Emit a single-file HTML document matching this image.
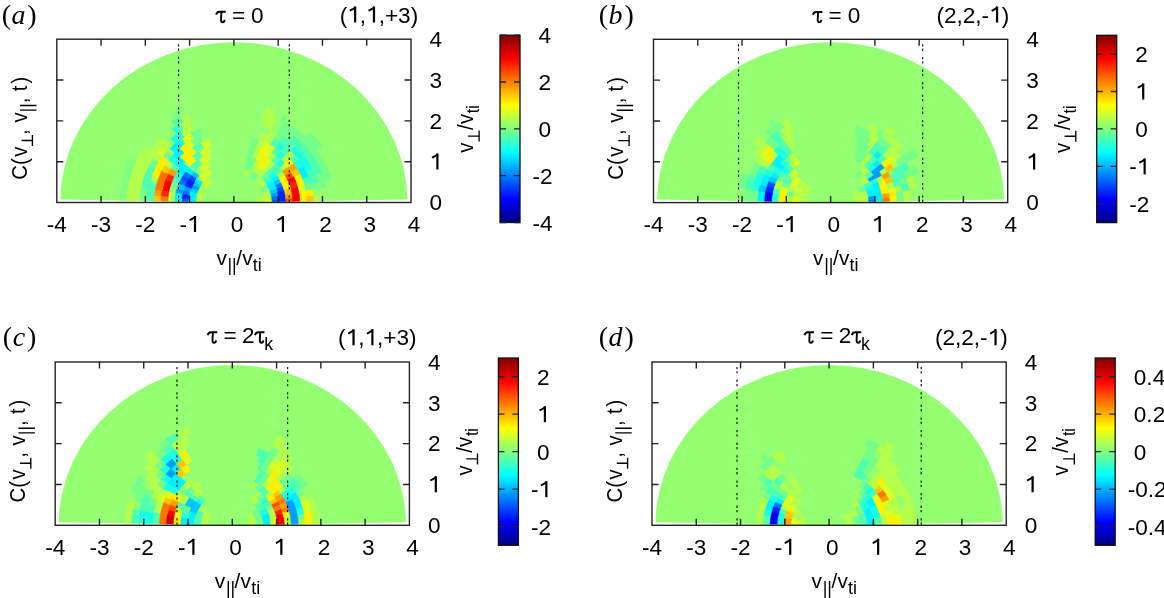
<!DOCTYPE html>
<html><head><meta charset="utf-8"><style>
html,body{margin:0;padding:0;background:#fff;}
svg{display:block;will-change:transform;}
text{font-family:'Liberation Sans', sans-serif;font-size:22.6px;fill:#000;font-kerning:none;}
</style></head><body>
<svg width="1164" height="598" viewBox="0 0 1164 598">
<defs><filter id="bl" x="-5%" y="-5%" width="110%" height="110%"><feGaussianBlur stdDeviation="2.0"/></filter><linearGradient id="jet" x1="0" y1="0" x2="0" y2="1"><stop offset="0.0000" stop-color="#800000"/><stop offset="0.0156" stop-color="#8f0000"/><stop offset="0.0312" stop-color="#9f0000"/><stop offset="0.0469" stop-color="#af0000"/><stop offset="0.0625" stop-color="#bf0000"/><stop offset="0.0781" stop-color="#cf0000"/><stop offset="0.0938" stop-color="#df0000"/><stop offset="0.1094" stop-color="#ef0000"/><stop offset="0.1250" stop-color="#ff0000"/><stop offset="0.1406" stop-color="#ff1000"/><stop offset="0.1562" stop-color="#ff2000"/><stop offset="0.1719" stop-color="#ff3000"/><stop offset="0.1875" stop-color="#ff4000"/><stop offset="0.2031" stop-color="#ff5000"/><stop offset="0.2188" stop-color="#ff6000"/><stop offset="0.2344" stop-color="#ff7000"/><stop offset="0.2500" stop-color="#ff8000"/><stop offset="0.2656" stop-color="#ff8f00"/><stop offset="0.2812" stop-color="#ff9f00"/><stop offset="0.2969" stop-color="#ffaf00"/><stop offset="0.3125" stop-color="#ffbf00"/><stop offset="0.3281" stop-color="#ffcf00"/><stop offset="0.3438" stop-color="#ffdf00"/><stop offset="0.3594" stop-color="#ffef00"/><stop offset="0.3750" stop-color="#ffff00"/><stop offset="0.3906" stop-color="#efff10"/><stop offset="0.4062" stop-color="#dfff20"/><stop offset="0.4219" stop-color="#cfff30"/><stop offset="0.4375" stop-color="#bfff40"/><stop offset="0.4531" stop-color="#afff50"/><stop offset="0.4688" stop-color="#9fff60"/><stop offset="0.4844" stop-color="#8fff70"/><stop offset="0.5000" stop-color="#80ff80"/><stop offset="0.5156" stop-color="#70ff8f"/><stop offset="0.5312" stop-color="#60ff9f"/><stop offset="0.5469" stop-color="#50ffaf"/><stop offset="0.5625" stop-color="#40ffbf"/><stop offset="0.5781" stop-color="#30ffcf"/><stop offset="0.5938" stop-color="#20ffdf"/><stop offset="0.6094" stop-color="#10ffef"/><stop offset="0.6250" stop-color="#00ffff"/><stop offset="0.6406" stop-color="#00efff"/><stop offset="0.6562" stop-color="#00dfff"/><stop offset="0.6719" stop-color="#00cfff"/><stop offset="0.6875" stop-color="#00bfff"/><stop offset="0.7031" stop-color="#00afff"/><stop offset="0.7188" stop-color="#009fff"/><stop offset="0.7344" stop-color="#008fff"/><stop offset="0.7500" stop-color="#0080ff"/><stop offset="0.7656" stop-color="#0070ff"/><stop offset="0.7812" stop-color="#0060ff"/><stop offset="0.7969" stop-color="#0050ff"/><stop offset="0.8125" stop-color="#0040ff"/><stop offset="0.8281" stop-color="#0030ff"/><stop offset="0.8438" stop-color="#0020ff"/><stop offset="0.8594" stop-color="#0010ff"/><stop offset="0.8750" stop-color="#0000ff"/><stop offset="0.8906" stop-color="#0000ef"/><stop offset="0.9062" stop-color="#0000df"/><stop offset="0.9219" stop-color="#0000cf"/><stop offset="0.9375" stop-color="#0000bf"/><stop offset="0.9531" stop-color="#0000af"/><stop offset="0.9688" stop-color="#00009f"/><stop offset="0.9844" stop-color="#00008f"/><stop offset="1.0000" stop-color="#000080"/></linearGradient></defs>
<g transform="translate(0.0,0.0)">
<path d="M233.90 202.50L407.52 199.46A173.65 160.2 0 0 0 60.28 199.46Z" fill="#94ff70"/>
<clipPath id="cpa"><path d="M233.90 202.50L407.52 199.46A173.65 160.2 0 0 0 60.28 199.46Z"/></clipPath>
<g clip-path="url(#cpa)"><path fill="#b3ff4c" stroke="#b3ff4c" stroke-width="0.5" d="M265.1 202.5A31.2 28.8 0 0 0 264.1 195.0L257.4 196.7A24.3 22.4 0 0 1 258.2 202.5ZM271.9 199.4A38.2 35.2 0 0 0 269.8 190.5L263.3 192.6A31.2 28.8 0 0 1 265.0 200.0ZM267.0 184.9A38.2 35.2 0 0 0 260.9 177.6L256.0 182.1A31.2 28.8 0 0 1 261.0 188.1ZM250.0 170.6A38.2 35.2 0 0 0 247.0 169.4L244.6 175.4A31.2 28.8 0 0 1 247.1 176.4ZM198.0 190.5A38.2 35.2 0 0 0 195.7 202.5L202.7 202.5A31.2 28.8 0 0 1 204.5 192.6ZM265.8 173.1A45.1 41.6 0 0 0 256.5 166.5L253.0 172.0A38.2 35.2 0 0 1 260.9 177.6ZM270.7 168.6A52.1 48.0 0 0 0 267.4 165.7L262.9 170.6A45.1 41.6 0 0 1 265.8 173.1ZM259.9 160.9A52.1 48.0 0 0 0 255.9 159.0L253.0 164.8A45.1 41.6 0 0 1 256.5 166.5ZM285.0 175.3A59.0 54.4 0 0 0 282.2 171.3L276.6 175.0A52.1 48.0 0 0 1 279.0 178.5ZM275.6 164.0A59.0 54.4 0 0 0 271.8 160.8L267.4 165.7A52.1 48.0 0 0 1 270.7 168.6ZM258.8 153.2A59.0 54.4 0 0 0 254.1 151.4L251.7 157.4A52.1 48.0 0 0 1 255.9 159.0ZM287.9 167.6A66.0 60.8 0 0 0 284.4 163.4L279.1 167.5A59.0 54.4 0 0 1 282.2 171.3ZM276.3 155.9A66.0 60.8 0 0 0 271.7 152.7L267.7 157.9A59.0 54.4 0 0 1 271.8 160.8ZM261.8 147.4A66.0 60.8 0 0 0 256.5 145.4L254.1 151.4A59.0 54.4 0 0 1 258.8 153.2ZM168.9 191.9A66.0 60.8 0 0 0 167.9 202.5L174.9 202.5A59.0 54.4 0 0 1 175.8 193.1ZM289.7 159.3A72.9 67.2 0 0 0 285.4 155.0L280.5 159.5A66.0 60.8 0 0 1 284.4 163.4ZM264.7 141.6A72.9 67.2 0 0 0 258.8 139.3L256.5 145.4A66.0 60.8 0 0 1 261.8 147.4ZM295.1 155.2A79.8 73.6 0 0 0 290.4 150.4L285.4 155.0A72.9 67.2 0 0 1 289.7 159.3ZM273.8 138.7A79.8 73.6 0 0 0 261.2 133.3L258.8 139.3A72.9 67.2 0 0 1 270.3 144.3ZM168.5 160.3A79.8 73.6 0 0 0 164.8 165.7L170.8 168.9A72.9 67.2 0 0 1 174.2 163.9ZM320.7 202.5A86.8 80.0 0 0 0 320.3 195.5L313.4 196.1A79.8 73.6 0 0 1 313.7 202.5ZM277.3 133.2A86.8 80.0 0 0 0 270.6 130.0L267.6 135.8A79.8 73.6 0 0 1 273.8 138.7ZM152.4 175.1A86.8 80.0 0 0 0 150.1 181.8L156.8 183.4A79.8 73.6 0 0 1 158.9 177.3ZM273.5 124.2A93.7 86.4 0 0 0 266.0 121.3L263.6 127.3A86.8 80.0 0 0 1 270.6 130.0ZM190.6 125.8A93.7 86.4 0 0 0 180.1 131.7L184.1 137.0A86.8 80.0 0 0 1 193.8 131.5ZM167.6 141.4A93.7 86.4 0 0 0 162.1 147.0L167.4 151.1A86.8 80.0 0 0 1 172.5 145.9ZM157.1 152.9A93.7 86.4 0 0 0 152.7 159.3L158.7 162.5A86.8 80.0 0 0 1 162.8 156.6ZM276.4 118.4A100.7 92.8 0 0 0 264.2 114.0L262.1 120.1A93.7 86.4 0 0 1 273.5 124.2ZM187.4 120.2A100.7 92.8 0 0 0 179.8 124.2L183.5 129.6A93.7 86.4 0 0 1 190.6 125.8ZM162.7 136.9A100.7 92.8 0 0 0 133.2 202.5L140.2 202.5A93.7 86.4 0 0 1 167.6 141.4ZM275.1 110.8A107.6 99.2 0 0 0 266.3 107.9L264.2 114.0A100.7 92.8 0 0 1 272.4 116.7ZM140.7 152.9A107.6 99.2 0 0 0 126.3 202.5L133.2 202.5A100.7 92.8 0 0 1 146.7 156.1Z"/><path fill="#dbff24" stroke="#dbff24" stroke-width="0.5" d="M272.1 202.5A38.2 35.2 0 0 0 271.9 199.4L265.0 200.0A31.2 28.8 0 0 1 265.1 202.5ZM267.4 165.7A52.1 48.0 0 0 0 263.8 163.2L259.8 168.4A45.1 41.6 0 0 1 262.9 170.6ZM271.8 160.8A59.0 54.4 0 0 0 267.7 157.9L263.8 163.2A52.1 48.0 0 0 1 267.4 165.7ZM263.4 155.4A59.0 54.4 0 0 0 258.8 153.2L255.9 159.0A52.1 48.0 0 0 1 259.9 160.9ZM271.7 152.7A66.0 60.8 0 0 0 266.9 149.8L263.4 155.4A59.0 54.4 0 0 1 267.7 157.9ZM305.7 190.8A72.9 67.2 0 0 0 304.3 185.1L297.6 186.8A66.0 60.8 0 0 1 298.9 191.9ZM275.7 147.4A72.9 67.2 0 0 0 264.7 141.6L261.8 147.4A66.0 60.8 0 0 1 271.7 152.7ZM191.0 140.4A79.8 73.6 0 0 0 185.3 144.1L189.5 149.2A72.9 67.2 0 0 1 194.7 145.8ZM190.5 133.2A86.8 80.0 0 0 0 181.1 139.0L185.3 144.1A79.8 73.6 0 0 1 194.0 138.7ZM162.1 147.0A93.7 86.4 0 0 0 157.1 152.9L162.8 156.6A86.8 80.0 0 0 1 167.4 151.1Z"/><path fill="#75ff8a" stroke="#75ff8a" stroke-width="0.5" d="M269.8 190.5A38.2 35.2 0 0 0 267.0 184.9L261.0 188.1A31.2 28.8 0 0 1 263.3 192.6ZM258.4 175.5A38.2 35.2 0 0 0 253.0 172.0L249.5 177.6A31.2 28.8 0 0 1 254.0 180.4ZM268.5 175.8A45.1 41.6 0 0 0 265.8 173.1L260.9 177.6A38.2 35.2 0 0 1 263.1 179.9ZM253.0 164.8A45.1 41.6 0 0 0 245.6 162.3L243.8 168.5A38.2 35.2 0 0 1 250.0 170.6ZM255.9 159.0A52.1 48.0 0 0 0 247.4 156.1L245.6 162.3A45.1 41.6 0 0 1 253.0 164.8ZM254.1 151.4A59.0 54.4 0 0 0 249.2 149.9L247.4 156.1A52.1 48.0 0 0 1 251.7 157.4ZM256.5 145.4A66.0 60.8 0 0 0 251.0 143.8L249.2 149.9A59.0 54.4 0 0 1 254.1 151.4ZM171.9 181.7A66.0 60.8 0 0 0 170.2 186.8L176.9 188.4A59.0 54.4 0 0 1 178.4 183.9ZM258.8 139.3A72.9 67.2 0 0 0 252.8 137.6L251.0 143.8A66.0 60.8 0 0 1 256.5 145.4ZM312.5 189.7A79.8 73.6 0 0 0 311.0 183.4L304.3 185.1A72.9 67.2 0 0 1 305.7 190.8ZM200.2 135.8A79.8 73.6 0 0 0 191.0 140.4L194.7 145.8A72.9 67.2 0 0 1 203.1 141.6ZM319.4 188.6A86.8 80.0 0 0 0 317.7 181.8L311.0 183.4A79.8 73.6 0 0 1 312.5 189.7ZM283.7 137.0A86.8 80.0 0 0 0 277.3 133.2L273.8 138.7A79.8 73.6 0 0 1 279.7 142.2ZM200.7 128.6A86.8 80.0 0 0 0 190.5 133.2L194.0 138.7A79.8 73.6 0 0 1 203.3 134.5ZM167.4 151.1A86.8 80.0 0 0 0 162.8 156.6L168.5 160.3A79.8 73.6 0 0 1 172.7 155.2ZM326.2 187.5A93.7 86.4 0 0 0 322.0 172.9L315.4 175.1A86.8 80.0 0 0 1 319.4 188.6ZM294.1 136.3A93.7 86.4 0 0 0 280.8 127.7L277.3 133.2A86.8 80.0 0 0 1 289.7 141.2ZM152.7 159.3A93.7 86.4 0 0 0 149.0 166.0L155.3 168.7A86.8 80.0 0 0 1 158.7 162.5ZM141.6 187.5A93.7 86.4 0 0 0 140.2 202.5L147.1 202.5A86.8 80.0 0 0 1 148.4 188.6ZM331.1 178.5A100.7 92.8 0 0 0 284.2 122.1L280.8 127.7A93.7 86.4 0 0 1 324.4 180.1ZM322.0 145.6A107.6 99.2 0 0 0 310.0 132.3L305.1 136.9A100.7 92.8 0 0 1 316.4 149.3ZM287.7 116.6A107.6 99.2 0 0 0 283.6 114.5L280.4 120.2A100.7 92.8 0 0 1 284.2 122.1Z"/><path fill="#d1ff2e" stroke="#d1ff2e" stroke-width="0.5" d="M206.9 177.6A38.2 35.2 0 0 0 200.8 184.9L206.8 188.1A31.2 28.8 0 0 1 211.8 182.1ZM208.0 168.4A45.1 41.6 0 0 0 198.1 177.2L203.6 181.1A38.2 35.2 0 0 1 212.0 173.7ZM207.9 160.9A52.1 48.0 0 0 0 198.7 167.1L203.4 171.8A45.1 41.6 0 0 1 211.3 166.5ZM209.0 153.2A59.0 54.4 0 0 0 198.0 159.3L202.2 164.4A52.1 48.0 0 0 1 211.9 159.0ZM208.7 146.3A66.0 60.8 0 0 0 198.5 151.2L202.2 156.6A59.0 54.4 0 0 1 211.3 152.2ZM209.0 139.3A72.9 67.2 0 0 0 200.2 142.9L203.4 148.6A66.0 60.8 0 0 1 211.3 145.4Z"/><path fill="#004dff" stroke="#004dff" stroke-width="0.5" d="M279.0 202.5A45.1 41.6 0 0 0 278.9 198.9L271.9 199.4A38.2 35.2 0 0 1 272.1 202.5ZM284.2 190.1A52.1 48.0 0 0 0 282.8 186.1L276.3 188.3A45.1 41.6 0 0 1 277.5 191.7ZM191.2 175.0A52.1 48.0 0 0 0 188.8 178.5L194.8 181.7A45.1 41.6 0 0 1 196.9 178.6ZM182.0 198.3A52.1 48.0 0 0 0 181.8 202.5L188.8 202.5A45.1 41.6 0 0 1 188.9 198.9ZM182.8 175.3A59.0 54.4 0 0 0 180.4 179.5L186.7 182.2A52.1 48.0 0 0 1 188.8 178.5Z"/><path fill="#0075ff" stroke="#0075ff" stroke-width="0.5" d="M278.9 198.9A45.1 41.6 0 0 0 278.3 195.3L271.5 196.4A38.2 35.2 0 0 1 271.9 199.4ZM282.8 186.1A52.1 48.0 0 0 0 281.1 182.2L274.8 184.9A45.1 41.6 0 0 1 276.3 188.3ZM183.6 190.1A52.1 48.0 0 0 0 182.6 194.2L189.5 195.3A45.1 41.6 0 0 1 190.3 191.7ZM185.6 171.3A59.0 54.4 0 0 0 182.8 175.3L188.8 178.5A52.1 48.0 0 0 1 191.2 175.0ZM180.4 179.5A59.0 54.4 0 0 0 178.4 183.9L185.0 186.1A52.1 48.0 0 0 1 186.7 182.2Z"/><path fill="#009eff" stroke="#009eff" stroke-width="0.5" d="M278.3 195.3A45.1 41.6 0 0 0 277.5 191.7L270.8 193.4A38.2 35.2 0 0 1 271.5 196.4ZM193.0 184.9A45.1 41.6 0 0 0 191.5 188.3L198.0 190.5A38.2 35.2 0 0 1 199.3 187.6ZM185.0 186.1A52.1 48.0 0 0 0 183.6 190.1L190.3 191.7A45.1 41.6 0 0 1 191.5 188.3ZM176.9 188.4A59.0 54.4 0 0 0 175.8 193.1L182.6 194.2A52.1 48.0 0 0 1 183.6 190.1Z"/><path fill="#00c7ff" stroke="#00c7ff" stroke-width="0.5" d="M277.5 191.7A45.1 41.6 0 0 0 276.3 188.3L269.8 190.5A38.2 35.2 0 0 1 270.8 193.4ZM194.8 181.7A45.1 41.6 0 0 0 193.0 184.9L199.3 187.6A38.2 35.2 0 0 1 200.8 184.9ZM191.5 188.3A45.1 41.6 0 0 0 190.3 191.7L197.0 193.4A38.2 35.2 0 0 1 198.0 190.5ZM281.1 182.2A52.1 48.0 0 0 0 279.0 178.5L273.0 181.7A45.1 41.6 0 0 1 274.8 184.9ZM194.0 171.6A52.1 48.0 0 0 0 191.2 175.0L196.9 178.6A45.1 41.6 0 0 1 199.3 175.8ZM178.4 183.9A59.0 54.4 0 0 0 176.9 188.4L183.6 190.1A52.1 48.0 0 0 1 185.0 186.1Z"/><path fill="#00f0ff" stroke="#00f0ff" stroke-width="0.5" d="M276.3 188.3A45.1 41.6 0 0 0 273.0 181.7L267.0 184.9A38.2 35.2 0 0 1 269.8 190.5ZM196.9 178.6A45.1 41.6 0 0 0 194.8 181.7L200.8 184.9A38.2 35.2 0 0 1 202.6 182.3ZM190.3 191.7A45.1 41.6 0 0 0 188.8 202.5L195.7 202.5A38.2 35.2 0 0 1 197.0 193.4ZM279.0 178.5A52.1 48.0 0 0 0 276.6 175.0L270.9 178.6A45.1 41.6 0 0 1 273.0 181.7ZM188.7 167.5A59.0 54.4 0 0 0 185.6 171.3L191.2 175.0A52.1 48.0 0 0 1 194.0 171.6ZM175.8 193.1A59.0 54.4 0 0 0 174.9 202.5L181.8 202.5A52.1 48.0 0 0 1 182.6 194.2ZM183.4 163.4A66.0 60.8 0 0 0 176.8 172.1L182.8 175.3A59.0 54.4 0 0 1 188.7 167.5ZM180.2 157.1A72.9 67.2 0 0 0 174.2 163.9L179.9 167.6A66.0 60.8 0 0 1 185.3 161.4ZM308.9 177.3A79.8 73.6 0 0 0 303.0 165.7L297.0 168.9A72.9 67.2 0 0 1 302.4 179.5ZM180.0 148.2A79.8 73.6 0 0 0 172.7 155.2L178.1 159.3A72.9 67.2 0 0 1 184.7 152.9ZM178.1 141.2A86.8 80.0 0 0 0 169.9 148.4L175.0 152.8A79.8 73.6 0 0 1 182.6 146.1Z"/><path fill="#1affe5" stroke="#1affe5" stroke-width="0.5" d="M273.0 181.7A45.1 41.6 0 0 0 270.9 178.6L265.2 182.3A38.2 35.2 0 0 1 267.0 184.9ZM276.6 175.0A52.1 48.0 0 0 0 273.8 171.6L268.5 175.8A45.1 41.6 0 0 1 270.9 178.6ZM284.4 163.4A66.0 60.8 0 0 0 280.5 159.5L275.6 164.0A59.0 54.4 0 0 1 279.1 167.5ZM176.8 172.1A66.0 60.8 0 0 0 174.1 176.8L180.4 179.5A59.0 54.4 0 0 1 182.8 175.3ZM285.4 155.0A72.9 67.2 0 0 0 280.8 151.0L276.3 155.9A66.0 60.8 0 0 1 280.5 159.5ZM303.0 165.7A79.8 73.6 0 0 0 299.3 160.3L293.6 163.9A72.9 67.2 0 0 1 297.0 168.9ZM285.2 146.1A79.8 73.6 0 0 0 279.7 142.2L275.7 147.4A72.9 67.2 0 0 1 280.8 151.0ZM172.7 155.2A79.8 73.6 0 0 0 168.5 160.3L174.2 163.9A72.9 67.2 0 0 1 178.1 159.3ZM312.5 168.7A86.8 80.0 0 0 0 295.3 145.9L290.4 150.4A79.8 73.6 0 0 1 306.3 171.4ZM181.1 139.0A86.8 80.0 0 0 0 178.1 141.2L182.6 146.1A79.8 73.6 0 0 1 185.3 144.1ZM180.1 131.7A93.7 86.4 0 0 0 170.6 138.8L175.3 143.5A86.8 80.0 0 0 1 184.1 137.0ZM176.2 126.5A100.7 92.8 0 0 0 172.6 128.9L176.8 133.9A93.7 86.4 0 0 1 180.1 131.7Z"/><path fill="#4dffb3" stroke="#4dffb3" stroke-width="0.5" d="M270.9 178.6A45.1 41.6 0 0 0 268.5 175.8L263.1 179.9A38.2 35.2 0 0 1 265.2 182.3ZM273.8 171.6A52.1 48.0 0 0 0 270.7 168.6L265.8 173.1A45.1 41.6 0 0 1 268.5 175.8ZM282.2 171.3A59.0 54.4 0 0 0 275.6 164.0L270.7 168.6A52.1 48.0 0 0 1 276.6 175.0ZM198.0 159.3A59.0 54.4 0 0 0 190.4 165.7L195.5 170.1A52.1 48.0 0 0 1 202.2 164.4ZM280.5 159.5A66.0 60.8 0 0 0 276.3 155.9L271.8 160.8A59.0 54.4 0 0 1 275.6 164.0ZM198.5 151.2A66.0 60.8 0 0 0 191.5 155.9L196.0 160.8A59.0 54.4 0 0 1 202.2 156.6ZM174.1 176.8A66.0 60.8 0 0 0 171.9 181.7L178.4 183.9A59.0 54.4 0 0 1 180.4 179.5ZM280.8 151.0A72.9 67.2 0 0 0 275.7 147.4L271.7 152.7A66.0 60.8 0 0 1 276.3 155.9ZM200.2 142.9A72.9 67.2 0 0 0 192.1 147.4L196.1 152.7A66.0 60.8 0 0 1 203.4 148.6ZM174.2 163.9A72.9 67.2 0 0 0 170.8 168.9L176.8 172.1A66.0 60.8 0 0 1 179.9 167.6ZM311.0 183.4A79.8 73.6 0 0 0 308.9 177.3L302.4 179.5A72.9 67.2 0 0 1 304.3 185.1ZM299.3 160.3A79.8 73.6 0 0 0 295.1 155.2L289.7 159.3A72.9 67.2 0 0 1 293.6 163.9ZM290.4 150.4A79.8 73.6 0 0 0 285.2 146.1L280.8 151.0A72.9 67.2 0 0 1 285.4 155.0ZM279.7 142.2A79.8 73.6 0 0 0 273.8 138.7L270.3 144.3A72.9 67.2 0 0 1 275.7 147.4ZM317.7 181.8A86.8 80.0 0 0 0 312.5 168.7L306.3 171.4A79.8 73.6 0 0 1 311.0 183.4ZM295.3 145.9A86.8 80.0 0 0 0 283.7 137.0L279.7 142.2A79.8 73.6 0 0 1 290.4 150.4ZM150.1 181.8A86.8 80.0 0 0 0 147.1 202.5L154.1 202.5A79.8 73.6 0 0 1 156.8 183.4ZM322.0 172.9A93.7 86.4 0 0 0 294.1 136.3L289.7 141.2A86.8 80.0 0 0 1 315.4 175.1ZM149.0 166.0A93.7 86.4 0 0 0 141.6 187.5L148.4 188.6A86.8 80.0 0 0 1 155.3 168.7ZM179.8 124.2A100.7 92.8 0 0 0 176.2 126.5L180.1 131.7A93.7 86.4 0 0 1 183.5 129.6ZM180.1 116.6A107.6 99.2 0 0 0 172.2 121.2L176.2 126.5A100.7 92.8 0 0 1 183.6 122.1Z"/><path fill="#0024ff" stroke="#0024ff" stroke-width="0.5" d="M286.0 202.5A52.1 48.0 0 0 0 284.2 190.1L277.5 191.7A45.1 41.6 0 0 1 279.0 202.5ZM188.8 178.5A52.1 48.0 0 0 0 185.0 186.1L191.5 188.3A45.1 41.6 0 0 1 194.8 181.7ZM182.6 194.2A52.1 48.0 0 0 0 182.0 198.3L188.9 198.9A45.1 41.6 0 0 1 189.5 195.3Z"/><path fill="#fff000" stroke="#fff000" stroke-width="0.5" d="M263.8 163.2A52.1 48.0 0 0 0 259.9 160.9L256.5 166.5A45.1 41.6 0 0 1 259.8 168.4ZM290.9 188.4A59.0 54.4 0 0 0 285.0 175.3L279.0 178.5A52.1 48.0 0 0 1 284.2 190.1ZM267.7 157.9A59.0 54.4 0 0 0 263.4 155.4L259.9 160.9A52.1 48.0 0 0 1 263.8 163.2ZM266.9 149.8A66.0 60.8 0 0 0 261.8 147.4L258.8 153.2A59.0 54.4 0 0 1 263.4 155.4ZM191.5 155.9A66.0 60.8 0 0 0 185.3 161.4L190.4 165.7A59.0 54.4 0 0 1 196.0 160.8ZM306.8 202.5A72.9 67.2 0 0 0 305.7 190.8L298.9 191.9A66.0 60.8 0 0 1 299.9 202.5ZM304.3 185.1A72.9 67.2 0 0 0 300.0 174.1L293.7 176.8A66.0 60.8 0 0 1 297.6 186.8ZM293.6 163.9A72.9 67.2 0 0 0 289.7 159.3L284.4 163.4A66.0 60.8 0 0 1 287.9 167.6ZM192.1 147.4A72.9 67.2 0 0 0 180.2 157.1L185.3 161.4A66.0 60.8 0 0 1 196.1 152.7ZM313.4 196.1A79.8 73.6 0 0 0 312.5 189.7L305.7 190.8A72.9 67.2 0 0 1 306.5 196.6ZM185.3 144.1A79.8 73.6 0 0 0 180.0 148.2L184.7 152.9A72.9 67.2 0 0 1 189.5 149.2ZM162.8 156.6A86.8 80.0 0 0 0 152.4 175.1L158.9 177.3A79.8 73.6 0 0 1 168.5 160.3Z"/><path fill="#ff4c00" stroke="#ff4c00" stroke-width="0.5" d="M292.9 202.5A59.0 54.4 0 0 0 292.7 197.8L285.8 198.3A52.1 48.0 0 0 1 286.0 202.5ZM293.7 176.8A66.0 60.8 0 0 0 291.0 172.1L285.0 175.3A59.0 54.4 0 0 1 287.4 179.5Z"/><path fill="#ff9e00" stroke="#ff9e00" stroke-width="0.5" d="M292.7 197.8A59.0 54.4 0 0 0 292.0 193.1L285.2 194.2A52.1 48.0 0 0 1 285.8 198.3ZM291.0 172.1A66.0 60.8 0 0 0 287.9 167.6L282.2 171.3A59.0 54.4 0 0 1 285.0 175.3ZM297.0 168.9A72.9 67.2 0 0 0 293.6 163.9L287.9 167.6A66.0 60.8 0 0 1 291.0 172.1ZM170.8 168.9A72.9 67.2 0 0 0 167.8 174.1L174.1 176.8A66.0 60.8 0 0 1 176.8 172.1ZM155.3 189.7A79.8 73.6 0 0 0 154.4 196.1L161.3 196.6A72.9 67.2 0 0 1 162.1 190.8Z"/><path fill="#ffc700" stroke="#ffc700" stroke-width="0.5" d="M292.0 193.1A59.0 54.4 0 0 0 290.9 188.4L284.2 190.1A52.1 48.0 0 0 1 285.2 194.2ZM300.0 174.1A72.9 67.2 0 0 0 297.0 168.9L291.0 172.1A66.0 60.8 0 0 1 293.7 176.8ZM313.7 202.5A79.8 73.6 0 0 0 313.4 196.1L306.5 196.6A72.9 67.2 0 0 1 306.8 202.5ZM164.8 165.7A79.8 73.6 0 0 0 161.5 171.4L167.8 174.1A72.9 67.2 0 0 1 170.8 168.9ZM154.4 196.1A79.8 73.6 0 0 0 154.1 202.5L161.0 202.5A72.9 67.2 0 0 1 161.3 196.6Z"/><path fill="#fa0000" stroke="#fa0000" stroke-width="0.5" d="M299.9 202.5A66.0 60.8 0 0 0 297.6 186.8L290.9 188.4A59.0 54.4 0 0 1 292.9 202.5ZM295.9 181.7A66.0 60.8 0 0 0 293.7 176.8L287.4 179.5A59.0 54.4 0 0 1 289.4 183.9ZM165.4 179.5A72.9 67.2 0 0 0 162.1 190.8L168.9 191.9A66.0 60.8 0 0 1 171.9 181.7Z"/><path fill="#ff2400" stroke="#ff2400" stroke-width="0.5" d="M297.6 186.8A66.0 60.8 0 0 0 295.9 181.7L289.4 183.9A59.0 54.4 0 0 1 290.9 188.4ZM167.8 174.1A72.9 67.2 0 0 0 165.4 179.5L171.9 181.7A66.0 60.8 0 0 1 174.1 176.8ZM162.1 190.8A72.9 67.2 0 0 0 161.3 196.6L168.2 197.2A66.0 60.8 0 0 1 168.9 191.9Z"/><path fill="#ff7500" stroke="#ff7500" stroke-width="0.5" d="M161.3 196.6A72.9 67.2 0 0 0 161.0 202.5L167.9 202.5A66.0 60.8 0 0 1 168.2 197.2ZM161.5 171.4A79.8 73.6 0 0 0 155.3 189.7L162.1 190.8A72.9 67.2 0 0 1 167.8 174.1Z"/><path fill="#a8ff57" stroke="#a8ff57" stroke-width="0.5" d="M191.4 118.4A100.7 92.8 0 0 0 187.4 120.2L190.6 125.8A93.7 86.4 0 0 1 194.3 124.2ZM188.4 112.6A107.6 99.2 0 0 0 180.1 116.6L183.6 122.1A100.7 92.8 0 0 1 191.4 118.4ZM145.8 145.6A107.6 99.2 0 0 0 140.7 152.9L146.7 156.1A100.7 92.8 0 0 1 151.4 149.3Z"/><path fill="#80ff80" stroke="#80ff80" stroke-width="0.5" d="M181.0 108.8A114.5 105.6 0 0 0 172.4 113.4L176.1 118.8A107.6 99.2 0 0 1 184.2 114.5ZM130.1 157.9A114.5 105.6 0 0 0 119.4 202.5L126.3 202.5A107.6 99.2 0 0 1 136.4 160.6Z"/></g>
<line x1="178.56" y1="44.20" x2="178.56" y2="202.50" stroke="#000" stroke-width="1.1" stroke-dasharray="2.3 2 2.3 6"/>
<line x1="289.24" y1="44.20" x2="289.24" y2="202.50" stroke="#000" stroke-width="1.1" stroke-dasharray="2.3 2 2.3 6"/>
<rect x="56.8" y="39.2" width="354.20" height="163.30" fill="none" stroke="#222" stroke-width="1.4"/>
<path d="M101.07 39.20v6.5M101.07 202.50v-6.5M145.35 39.20v6.5M145.35 202.50v-6.5M189.62 39.20v6.5M189.62 202.50v-6.5M233.90 39.20v6.5M233.90 202.50v-6.5M278.18 39.20v6.5M278.18 202.50v-6.5M322.45 39.20v6.5M322.45 202.50v-6.5M366.73 39.20v6.5M366.73 202.50v-6.5M56.80 161.68h6.5M411.00 161.68h-6.5M56.80 120.85h6.5M411.00 120.85h-6.5M56.80 80.02h6.5M411.00 80.02h-6.5" stroke="#222" stroke-width="1.4" fill="none"/>
<text transform="translate(56.80 232.00) scale(1 1.0)" text-anchor="middle">-4</text>
<text transform="translate(101.07 232.00) scale(1 1.0)" text-anchor="middle">-3</text>
<text transform="translate(145.35 232.00) scale(1 1.0)" text-anchor="middle">-2</text>
<g transform="translate(189.62 232.00) scale(1 1.0)"><text x="-10.05" y="0">-</text><path d="M5.39 0V-15.93" stroke="#000" stroke-width="2.21" fill="none"/><path d="M5.84 -15.59C4.03 -13.56 1.32 -12.43 -0.04 -11.75" stroke="#000" stroke-width="1.92" fill="none"/></g>
<text transform="translate(237.04 232.00) scale(1 1.0)" text-anchor="middle">0</text>
<g transform="translate(281.31 232.00) scale(1 1.0)"><path d="M1.63 0V-15.93" stroke="#000" stroke-width="2.21" fill="none"/><path d="M2.08 -15.59C0.27 -13.56 -2.44 -12.43 -3.80 -11.75" stroke="#000" stroke-width="1.92" fill="none"/></g>
<text transform="translate(325.59 232.00) scale(1 1.0)" text-anchor="middle">2</text>
<text transform="translate(369.86 232.00) scale(1 1.0)" text-anchor="middle">3</text>
<text transform="translate(414.14 232.00) scale(1 1.0)" text-anchor="middle">4</text>
<text transform="translate(429.50 210.30) scale(1 1.0)">0</text>
<g transform="translate(429.50 169.48) scale(1 1.0)"><path d="M7.91 0V-15.93" stroke="#000" stroke-width="2.21" fill="none"/><path d="M8.36 -15.59C6.55 -13.56 3.84 -12.43 2.49 -11.75" stroke="#000" stroke-width="1.92" fill="none"/></g>
<text transform="translate(429.50 128.65) scale(1 1.0)">2</text>
<text transform="translate(429.50 87.82) scale(1 1.0)">3</text>
<text transform="translate(429.50 47.00) scale(1 1.0)">4</text>
<path d="M216.10 14.60C216.80 12.70 218.00 11.80 219.60 11.80L225.70 11.80" stroke="#000" stroke-width="2.0" fill="none"/><path d="M221.40 11.80L221.00 19.90C220.80 23.00 224.10 23.10 224.60 19.80" stroke="#000" stroke-width="1.9" fill="none"/><text transform="translate(231.90 22.60) scale(1 1.0)">=</text><text transform="translate(251.00 22.60) scale(1 1.0)">0</text>
<g transform="translate(339.70 22.50) scale(1 1.0)"><text x="0.00" y="0">(</text><path d="M15.44 0V-15.93" stroke="#000" stroke-width="2.21" fill="none"/><path d="M15.89 -15.59C14.08 -13.56 11.37 -12.43 10.01 -11.75" stroke="#000" stroke-width="1.92" fill="none"/><text x="20.10" y="0">,</text><path d="M34.28 0V-15.93" stroke="#000" stroke-width="2.21" fill="none"/><path d="M34.74 -15.59C32.93 -13.56 30.22 -12.43 28.86 -11.75" stroke="#000" stroke-width="1.92" fill="none"/><text x="38.94" y="0">,+3)</text></g>
<text transform="translate(216.40 264.80) scale(1 1.0)" style="font-size:20.8px">v</text><text transform="translate(227.50 271.30) scale(1 1.0)" style="font-size:17.8px">||</text><text transform="translate(236.20 264.80) scale(1 1.0)" style="font-size:20.8px">/</text><text transform="translate(242.20 264.80) scale(1 1.0)" style="font-size:20.8px">v</text><text transform="translate(252.80 271.30) scale(1 1.0)" style="font-size:17.8px">ti</text>
<text transform="translate(26.60 179.70) rotate(-90) scale(0.9 1)">C(</text><text transform="translate(26.60 156.70) rotate(-90) scale(0.9 1)">v</text><path d="M32.40 146.00V135.00M32.40 140.50H21.60" stroke="#000" stroke-width="1.35" fill="none"/><text transform="translate(26.60 135.00) rotate(-90) scale(0.9 1)">,</text><text transform="translate(26.60 122.60) rotate(-90) scale(0.9 1)">v</text><path d="M20.00 110.10H36.50M20.00 105.40H36.50" stroke="#000" stroke-width="1.45" fill="none"/><text transform="translate(26.60 103.20) rotate(-90) scale(0.9 1)">,</text><text transform="translate(26.60 91.30) rotate(-90) scale(0.9 1)">t</text><text transform="translate(26.60 83.60) rotate(-90) scale(0.9 1)">)</text>
<text transform="translate(473.10 152.80) rotate(-90) scale(0.9 1)">v</text><path d="M479.10 141.60V130.60M479.10 136.10H467.90" stroke="#000" stroke-width="1.35" fill="none"/><text transform="translate(473.10 130.00) rotate(-90) scale(0.9 1)">/</text><text transform="translate(473.10 124.10) rotate(-90) scale(0.9 1)">v</text><text transform="translate(479.30 113.30) rotate(-90) scale(0.9 1)" style="font-size:17.8px">ti</text>
<rect x="500.0" y="35.2" width="20.0" height="187.30" fill="url(#jet)" stroke="#111" stroke-width="1.3"/>
<text transform="translate(538.60 43.20) scale(1 1.0)">4</text>
<text transform="translate(538.60 90.02) scale(1 1.0)">2</text>
<text transform="translate(538.60 136.85) scale(1 1.0)">0</text>
<text transform="translate(532.50 183.68) scale(1 1.0)">-2</text>
<text transform="translate(532.50 230.50) scale(1 1.0)">-4</text>
<path d="M500.00 35.20h6M520.00 35.20h-6M500.00 82.02h6M520.00 82.02h-6M500.00 128.85h6M520.00 128.85h-6M500.00 175.68h6M520.00 175.68h-6M500.00 222.50h6M520.00 222.50h-6" stroke="#222" stroke-width="1.3" fill="none"/>
</g>
<g transform="translate(596.7,0.1)">
<path d="M233.90 202.50L407.52 199.46A173.65 160.2 0 0 0 60.28 199.46Z" fill="#94ff70"/>
<clipPath id="cpb"><path d="M233.90 202.50L407.52 199.46A173.65 160.2 0 0 0 60.28 199.46Z"/></clipPath>
<g clip-path="url(#cpb)"><path fill="#b3ff4c" stroke="#b3ff4c" stroke-width="0.5" d="M265.1 202.5A31.2 28.8 0 0 0 262.2 190.3L255.9 193.0A24.3 22.4 0 0 1 258.2 202.5ZM210.0 184.0A31.2 28.8 0 0 0 202.7 202.5L209.6 202.5A24.3 22.4 0 0 1 215.3 188.1ZM272.1 202.5A38.2 35.2 0 0 0 269.8 190.5L263.3 192.6A31.2 28.8 0 0 1 265.1 202.5ZM204.7 179.9A38.2 35.2 0 0 0 199.3 187.6L205.6 190.3A31.2 28.8 0 0 1 210.0 184.0ZM198.0 190.5A38.2 35.2 0 0 0 196.3 196.4L203.1 197.5A31.2 28.8 0 0 1 204.5 192.6ZM273.0 181.7A45.1 41.6 0 0 0 268.5 175.8L263.1 179.9A38.2 35.2 0 0 1 267.0 184.9ZM193.0 184.9A45.1 41.6 0 0 0 191.5 188.3L198.0 190.5A38.2 35.2 0 0 1 199.3 187.6ZM189.5 195.3A45.1 41.6 0 0 0 188.8 202.5L195.7 202.5A38.2 35.2 0 0 1 196.3 196.4ZM273.8 171.6A52.1 48.0 0 0 0 267.4 165.7L262.9 170.6A45.1 41.6 0 0 1 268.5 175.8ZM194.0 171.6A52.1 48.0 0 0 0 191.2 175.0L196.9 178.6A45.1 41.6 0 0 1 199.3 175.8ZM287.4 179.5A59.0 54.4 0 0 0 285.0 175.3L279.0 178.5A52.1 48.0 0 0 1 281.1 182.2ZM271.8 160.8A59.0 54.4 0 0 0 267.7 157.9L263.8 163.2A52.1 48.0 0 0 1 267.4 165.7ZM196.0 160.8A59.0 54.4 0 0 0 192.2 164.0L197.1 168.6A52.1 48.0 0 0 1 200.4 165.7ZM180.4 179.5A59.0 54.4 0 0 0 176.9 188.4L183.6 190.1A52.1 48.0 0 0 1 186.7 182.2ZM297.6 186.8A66.0 60.8 0 0 0 295.9 181.7L289.4 183.9A59.0 54.4 0 0 1 290.9 188.4ZM291.0 172.1A66.0 60.8 0 0 0 287.9 167.6L282.2 171.3A59.0 54.4 0 0 1 285.0 175.3ZM276.3 155.9A66.0 60.8 0 0 0 271.7 152.7L267.7 157.9A59.0 54.4 0 0 1 271.8 160.8ZM196.1 152.7A66.0 60.8 0 0 0 191.5 155.9L196.0 160.8A59.0 54.4 0 0 1 200.1 157.9ZM305.7 190.8A72.9 67.2 0 0 0 304.3 185.1L297.6 186.8A66.0 60.8 0 0 1 298.9 191.9ZM275.7 147.4A72.9 67.2 0 0 0 273.1 145.8L269.3 151.2A66.0 60.8 0 0 1 271.7 152.7ZM194.7 145.8A72.9 67.2 0 0 0 192.1 147.4L196.1 152.7A66.0 60.8 0 0 1 198.5 151.2ZM313.7 202.5A79.8 73.6 0 0 0 312.5 189.7L305.7 190.8A72.9 67.2 0 0 1 306.8 202.5ZM303.0 165.7A79.8 73.6 0 0 0 299.3 160.3L293.6 163.9A72.9 67.2 0 0 1 297.0 168.9ZM295.1 155.2A79.8 73.6 0 0 0 290.4 150.4L285.4 155.0A72.9 67.2 0 0 1 289.7 159.3ZM279.7 142.2A79.8 73.6 0 0 0 273.8 138.7L270.3 144.3A72.9 67.2 0 0 1 275.7 147.4ZM194.0 138.7A79.8 73.6 0 0 0 188.1 142.2L192.1 147.4A72.9 67.2 0 0 1 197.5 144.3ZM177.4 150.4A79.8 73.6 0 0 0 172.7 155.2L178.1 159.3A72.9 67.2 0 0 1 182.4 155.0ZM168.5 160.3A79.8 73.6 0 0 0 164.8 165.7L170.8 168.9A72.9 67.2 0 0 1 174.2 163.9ZM319.4 188.6A86.8 80.0 0 0 0 315.4 175.1L308.9 177.3A79.8 73.6 0 0 1 312.5 189.7ZM305.0 156.6A86.8 80.0 0 0 0 295.3 145.9L290.4 150.4A79.8 73.6 0 0 1 299.3 160.3ZM283.7 137.0A86.8 80.0 0 0 0 274.0 131.5L270.8 137.2A79.8 73.6 0 0 1 279.7 142.2ZM193.8 131.5A86.8 80.0 0 0 0 184.1 137.0L188.1 142.2A79.8 73.6 0 0 1 197.0 137.2ZM162.8 156.6A86.8 80.0 0 0 0 158.7 162.5L164.8 165.7A79.8 73.6 0 0 1 168.5 160.3ZM305.7 147.0A93.7 86.4 0 0 0 294.1 136.3L289.7 141.2A86.8 80.0 0 0 1 300.4 151.1ZM280.8 127.7A93.7 86.4 0 0 0 273.5 124.2L270.6 130.0A86.8 80.0 0 0 1 277.3 133.2ZM194.3 124.2A93.7 86.4 0 0 0 183.5 129.6L187.3 135.0A86.8 80.0 0 0 1 197.2 130.0ZM167.6 141.4A93.7 86.4 0 0 0 157.1 152.9L162.8 156.6A86.8 80.0 0 0 1 172.5 145.9ZM298.6 131.4A100.7 92.8 0 0 0 291.6 126.5L287.7 131.7A93.7 86.4 0 0 1 294.1 136.3ZM191.4 118.4A100.7 92.8 0 0 0 183.6 122.1L187.0 127.7A93.7 86.4 0 0 1 194.3 124.2ZM162.7 136.9A100.7 92.8 0 0 0 156.8 142.8L162.1 147.0A93.7 86.4 0 0 1 167.6 141.4Z"/><path fill="#75ff8a" stroke="#75ff8a" stroke-width="0.5" d="M269.8 190.5A38.2 35.2 0 0 0 267.0 184.9L261.0 188.1A31.2 28.8 0 0 1 263.3 192.6ZM265.8 173.1A45.1 41.6 0 0 0 262.9 170.6L258.4 175.5A38.2 35.2 0 0 1 260.9 177.6ZM190.3 191.7A45.1 41.6 0 0 0 189.5 195.3L196.3 196.4A38.2 35.2 0 0 1 197.0 193.4ZM191.2 175.0A52.1 48.0 0 0 0 188.8 178.5L194.8 181.7A45.1 41.6 0 0 1 196.9 178.6ZM186.7 182.2A52.1 48.0 0 0 0 185.0 186.1L191.5 188.3A45.1 41.6 0 0 1 193.0 184.9ZM267.7 157.9A59.0 54.4 0 0 0 261.1 154.2L257.9 159.9A52.1 48.0 0 0 1 263.8 163.2ZM182.8 175.3A59.0 54.4 0 0 0 180.4 179.5L186.7 182.2A52.1 48.0 0 0 1 188.8 178.5ZM271.7 152.7A66.0 60.8 0 0 0 261.8 147.4L258.8 153.2A59.0 54.4 0 0 1 267.7 157.9ZM191.5 155.9A66.0 60.8 0 0 0 187.3 159.5L192.2 164.0A59.0 54.4 0 0 1 196.0 160.8ZM306.8 202.5A72.9 67.2 0 0 0 305.7 190.8L298.9 191.9A66.0 60.8 0 0 1 299.9 202.5ZM300.0 174.1A72.9 67.2 0 0 0 297.0 168.9L291.0 172.1A66.0 60.8 0 0 1 293.7 176.8ZM273.1 145.8A72.9 67.2 0 0 0 261.8 140.4L259.1 146.3A66.0 60.8 0 0 1 269.3 151.2ZM311.0 183.4A79.8 73.6 0 0 0 308.9 177.3L302.4 179.5A72.9 67.2 0 0 1 304.3 185.1ZM273.8 138.7A79.8 73.6 0 0 0 261.2 133.3L258.8 139.3A72.9 67.2 0 0 1 270.3 144.3ZM155.3 189.7A79.8 73.6 0 0 0 154.1 202.5L161.0 202.5A72.9 67.2 0 0 1 162.1 190.8ZM315.4 175.1A86.8 80.0 0 0 0 312.5 168.7L306.3 171.4A79.8 73.6 0 0 1 308.9 177.3ZM309.1 162.5A86.8 80.0 0 0 0 305.0 156.6L299.3 160.3A79.8 73.6 0 0 1 303.0 165.7ZM295.3 145.9A86.8 80.0 0 0 0 283.7 137.0L279.7 142.2A79.8 73.6 0 0 1 290.4 150.4ZM274.0 131.5A86.8 80.0 0 0 0 260.0 126.2L257.9 132.3A79.8 73.6 0 0 1 270.8 137.2ZM178.1 141.2A86.8 80.0 0 0 0 172.5 145.9L177.4 150.4A79.8 73.6 0 0 1 182.6 146.1ZM158.7 162.5A86.8 80.0 0 0 0 152.4 175.1L158.9 177.3A79.8 73.6 0 0 1 164.8 165.7ZM148.4 188.6A86.8 80.0 0 0 0 147.1 202.5L154.1 202.5A79.8 73.6 0 0 1 155.3 189.7ZM322.0 172.9A93.7 86.4 0 0 0 318.8 166.0L312.5 168.7A86.8 80.0 0 0 1 315.4 175.1ZM315.1 159.3A93.7 86.4 0 0 0 310.7 152.9L305.0 156.6A86.8 80.0 0 0 1 309.1 162.5ZM287.7 131.7A93.7 86.4 0 0 0 284.3 129.6L280.5 135.0A86.8 80.0 0 0 1 283.7 137.0ZM183.5 129.6A93.7 86.4 0 0 0 180.1 131.7L184.1 137.0A86.8 80.0 0 0 1 187.3 135.0ZM173.7 136.3A93.7 86.4 0 0 0 167.6 141.4L172.5 145.9A86.8 80.0 0 0 1 178.1 141.2ZM145.8 172.9A93.7 86.4 0 0 0 141.6 187.5L148.4 188.6A86.8 80.0 0 0 1 152.4 175.1ZM321.1 156.1A100.7 92.8 0 0 0 316.4 149.3L310.7 152.9A93.7 86.4 0 0 1 315.1 159.3ZM183.6 122.1A100.7 92.8 0 0 0 169.2 131.4L173.7 136.3A93.7 86.4 0 0 1 187.0 127.7ZM176.1 118.8A107.6 99.2 0 0 0 172.2 121.2L176.2 126.5A100.7 92.8 0 0 1 179.8 124.2Z"/><path fill="#dbff24" stroke="#dbff24" stroke-width="0.5" d="M199.3 187.6A38.2 35.2 0 0 0 198.0 190.5L204.5 192.6A31.2 28.8 0 0 1 205.6 190.3ZM196.3 196.4A38.2 35.2 0 0 0 195.7 202.5L202.7 202.5A31.2 28.8 0 0 1 203.1 197.5ZM199.3 175.8A45.1 41.6 0 0 0 193.0 184.9L199.3 187.6A38.2 35.2 0 0 1 204.7 179.9ZM197.1 168.6A52.1 48.0 0 0 0 194.0 171.6L199.3 175.8A45.1 41.6 0 0 1 202.0 173.1ZM185.0 186.1A52.1 48.0 0 0 0 183.6 190.1L190.3 191.7A45.1 41.6 0 0 1 191.5 188.3ZM289.4 183.9A59.0 54.4 0 0 0 287.4 179.5L281.1 182.2A52.1 48.0 0 0 1 282.8 186.1ZM200.1 157.9A59.0 54.4 0 0 0 196.0 160.8L200.4 165.7A52.1 48.0 0 0 1 204.0 163.2ZM298.9 191.9A66.0 60.8 0 0 0 297.6 186.8L290.9 188.4A59.0 54.4 0 0 1 292.0 193.1ZM299.3 160.3A79.8 73.6 0 0 0 295.1 155.2L289.7 159.3A72.9 67.2 0 0 1 293.6 163.9ZM167.4 151.1A86.8 80.0 0 0 0 162.8 156.6L168.5 160.3A79.8 73.6 0 0 1 172.7 155.2Z"/><path fill="#0075ff" stroke="#0075ff" stroke-width="0.5" d="M279.0 202.5A45.1 41.6 0 0 0 278.9 198.9L271.9 199.4A38.2 35.2 0 0 1 272.1 202.5Z"/><path fill="#009eff" stroke="#009eff" stroke-width="0.5" d="M278.9 198.9A45.1 41.6 0 0 0 278.3 195.3L271.5 196.4A38.2 35.2 0 0 1 271.9 199.4ZM279.0 178.5A52.1 48.0 0 0 0 276.6 175.0L270.9 178.6A45.1 41.6 0 0 1 273.0 181.7ZM285.0 175.3A59.0 54.4 0 0 0 279.1 167.5L273.8 171.6A52.1 48.0 0 0 1 279.0 178.5ZM287.9 167.6A66.0 60.8 0 0 0 284.4 163.4L279.1 167.5A59.0 54.4 0 0 1 282.2 171.3Z"/><path fill="#00f0ff" stroke="#00f0ff" stroke-width="0.5" d="M278.3 195.3A45.1 41.6 0 0 0 276.3 188.3L269.8 190.5A38.2 35.2 0 0 1 271.5 196.4ZM286.0 202.5A52.1 48.0 0 0 0 281.1 182.2L274.8 184.9A45.1 41.6 0 0 1 279.0 202.5ZM284.4 163.4A66.0 60.8 0 0 0 280.5 159.5L275.6 164.0A59.0 54.4 0 0 1 279.1 167.5ZM183.4 163.4A66.0 60.8 0 0 0 179.9 167.6L185.6 171.3A59.0 54.4 0 0 1 188.7 167.5ZM176.8 172.1A66.0 60.8 0 0 0 174.1 176.8L180.4 179.5A59.0 54.4 0 0 1 182.8 175.3ZM285.4 155.0A72.9 67.2 0 0 0 280.8 151.0L276.3 155.9A66.0 60.8 0 0 1 280.5 159.5ZM182.4 155.0A72.9 67.2 0 0 0 174.2 163.9L179.9 167.6A66.0 60.8 0 0 1 187.3 159.5ZM167.8 174.1A72.9 67.2 0 0 0 163.5 185.1L170.2 186.8A66.0 60.8 0 0 1 174.1 176.8ZM162.1 190.8A72.9 67.2 0 0 0 161.0 202.5L167.9 202.5A66.0 60.8 0 0 1 168.9 191.9Z"/><path fill="#1affe5" stroke="#1affe5" stroke-width="0.5" d="M276.3 188.3A45.1 41.6 0 0 0 274.8 184.9L268.5 187.6A38.2 35.2 0 0 1 269.8 190.5ZM281.1 182.2A52.1 48.0 0 0 0 279.0 178.5L273.0 181.7A45.1 41.6 0 0 1 274.8 184.9ZM279.1 167.5A59.0 54.4 0 0 0 275.6 164.0L270.7 168.6A52.1 48.0 0 0 1 273.8 171.6ZM188.7 167.5A59.0 54.4 0 0 0 185.6 171.3L191.2 175.0A52.1 48.0 0 0 1 194.0 171.6ZM175.8 193.1A59.0 54.4 0 0 0 174.9 202.5L181.8 202.5A52.1 48.0 0 0 1 182.6 194.2ZM187.3 159.5A66.0 60.8 0 0 0 183.4 163.4L188.7 167.5A59.0 54.4 0 0 1 192.2 164.0ZM179.9 167.6A66.0 60.8 0 0 0 176.8 172.1L182.8 175.3A59.0 54.4 0 0 1 185.6 171.3ZM187.0 151.0A72.9 67.2 0 0 0 182.4 155.0L187.3 159.5A66.0 60.8 0 0 1 191.5 155.9ZM170.8 168.9A72.9 67.2 0 0 0 167.8 174.1L174.1 176.8A66.0 60.8 0 0 1 176.8 172.1ZM182.6 146.1A79.8 73.6 0 0 0 177.4 150.4L182.4 155.0A72.9 67.2 0 0 1 187.0 151.0ZM161.5 171.4A79.8 73.6 0 0 0 155.3 189.7L162.1 190.8A72.9 67.2 0 0 1 167.8 174.1Z"/><path fill="#4dffb3" stroke="#4dffb3" stroke-width="0.5" d="M274.8 184.9A45.1 41.6 0 0 0 273.0 181.7L267.0 184.9A38.2 35.2 0 0 1 268.5 187.6ZM276.6 175.0A52.1 48.0 0 0 0 273.8 171.6L268.5 175.8A45.1 41.6 0 0 1 270.9 178.6ZM188.8 178.5A52.1 48.0 0 0 0 186.7 182.2L193.0 184.9A45.1 41.6 0 0 1 194.8 181.7ZM275.6 164.0A59.0 54.4 0 0 0 271.8 160.8L267.4 165.7A52.1 48.0 0 0 1 270.7 168.6ZM192.2 164.0A59.0 54.4 0 0 0 188.7 167.5L194.0 171.6A52.1 48.0 0 0 1 197.1 168.6ZM185.6 171.3A59.0 54.4 0 0 0 182.8 175.3L188.8 178.5A52.1 48.0 0 0 1 191.2 175.0ZM176.9 188.4A59.0 54.4 0 0 0 175.8 193.1L182.6 194.2A52.1 48.0 0 0 1 183.6 190.1ZM280.5 159.5A66.0 60.8 0 0 0 276.3 155.9L271.8 160.8A59.0 54.4 0 0 1 275.6 164.0ZM304.3 185.1A72.9 67.2 0 0 0 300.0 174.1L293.7 176.8A66.0 60.8 0 0 1 297.6 186.8ZM289.7 159.3A72.9 67.2 0 0 0 285.4 155.0L280.5 159.5A66.0 60.8 0 0 1 284.4 163.4ZM280.8 151.0A72.9 67.2 0 0 0 275.7 147.4L271.7 152.7A66.0 60.8 0 0 1 276.3 155.9ZM192.1 147.4A72.9 67.2 0 0 0 187.0 151.0L191.5 155.9A66.0 60.8 0 0 1 196.1 152.7ZM174.2 163.9A72.9 67.2 0 0 0 170.8 168.9L176.8 172.1A66.0 60.8 0 0 1 179.9 167.6ZM312.5 189.7A79.8 73.6 0 0 0 311.0 183.4L304.3 185.1A72.9 67.2 0 0 1 305.7 190.8ZM308.9 177.3A79.8 73.6 0 0 0 303.0 165.7L297.0 168.9A72.9 67.2 0 0 1 302.4 179.5ZM290.4 150.4A79.8 73.6 0 0 0 279.7 142.2L275.7 147.4A72.9 67.2 0 0 1 285.4 155.0ZM188.1 142.2A79.8 73.6 0 0 0 182.6 146.1L187.0 151.0A72.9 67.2 0 0 1 192.1 147.4ZM164.8 165.7A79.8 73.6 0 0 0 161.5 171.4L167.8 174.1A72.9 67.2 0 0 1 170.8 168.9ZM312.5 168.7A86.8 80.0 0 0 0 309.1 162.5L303.0 165.7A79.8 73.6 0 0 1 306.3 171.4ZM184.1 137.0A86.8 80.0 0 0 0 178.1 141.2L182.6 146.1A79.8 73.6 0 0 1 188.1 142.2ZM152.4 175.1A86.8 80.0 0 0 0 148.4 188.6L155.3 189.7A79.8 73.6 0 0 1 158.9 177.3ZM180.1 131.7A93.7 86.4 0 0 0 173.7 136.3L178.1 141.2A86.8 80.0 0 0 1 184.1 137.0Z"/><path fill="#fff000" stroke="#fff000" stroke-width="0.5" d="M183.6 190.1A52.1 48.0 0 0 0 181.8 202.5L188.8 202.5A45.1 41.6 0 0 1 190.3 191.7ZM292.0 193.1A59.0 54.4 0 0 0 289.4 183.9L282.8 186.1A52.1 48.0 0 0 1 285.2 194.2ZM299.9 202.5A66.0 60.8 0 0 0 298.9 191.9L292.0 193.1A59.0 54.4 0 0 1 292.9 202.5ZM293.6 163.9A72.9 67.2 0 0 0 289.7 159.3L284.4 163.4A66.0 60.8 0 0 1 287.9 167.6ZM172.7 155.2A79.8 73.6 0 0 0 168.5 160.3L174.2 163.9A72.9 67.2 0 0 1 178.1 159.3ZM172.5 145.9A86.8 80.0 0 0 0 167.4 151.1L172.7 155.2A79.8 73.6 0 0 1 177.4 150.4Z"/><path fill="#ff7500" stroke="#ff7500" stroke-width="0.5" d="M292.9 202.5A59.0 54.4 0 0 0 292.7 197.8L285.8 198.3A52.1 48.0 0 0 1 286.0 202.5Z"/><path fill="#ff9e00" stroke="#ff9e00" stroke-width="0.5" d="M292.7 197.8A59.0 54.4 0 0 0 292.0 193.1L285.2 194.2A52.1 48.0 0 0 1 285.8 198.3ZM293.7 176.8A66.0 60.8 0 0 0 291.0 172.1L285.0 175.3A59.0 54.4 0 0 1 287.4 179.5Z"/><path fill="#ffc700" stroke="#ffc700" stroke-width="0.5" d="M295.9 181.7A66.0 60.8 0 0 0 293.7 176.8L287.4 179.5A59.0 54.4 0 0 1 289.4 183.9ZM297.0 168.9A72.9 67.2 0 0 0 293.6 163.9L287.9 167.6A66.0 60.8 0 0 1 291.0 172.1Z"/><path fill="#00c7ff" stroke="#00c7ff" stroke-width="0.5" d="M174.1 176.8A66.0 60.8 0 0 0 171.9 181.7L178.4 183.9A59.0 54.4 0 0 1 180.4 179.5ZM163.5 185.1A72.9 67.2 0 0 0 162.1 190.8L168.9 191.9A66.0 60.8 0 0 1 170.2 186.8Z"/><path fill="#004dff" stroke="#004dff" stroke-width="0.5" d="M171.9 181.7A66.0 60.8 0 0 0 170.2 186.8L176.9 188.4A59.0 54.4 0 0 1 178.4 183.9Z"/><path fill="#0024ff" stroke="#0024ff" stroke-width="0.5" d="M170.2 186.8A66.0 60.8 0 0 0 168.9 191.9L175.8 193.1A59.0 54.4 0 0 1 176.9 188.4Z"/><path fill="#0000fa" stroke="#0000fa" stroke-width="0.5" d="M168.9 191.9A66.0 60.8 0 0 0 167.9 202.5L174.9 202.5A59.0 54.4 0 0 1 175.8 193.1Z"/></g>
<line x1="141.81" y1="44.20" x2="141.81" y2="202.50" stroke="#000" stroke-width="1.1" stroke-dasharray="2.3 2 2.3 6"/>
<line x1="325.99" y1="44.20" x2="325.99" y2="202.50" stroke="#000" stroke-width="1.1" stroke-dasharray="2.3 2 2.3 6"/>
<rect x="56.8" y="39.2" width="354.20" height="163.30" fill="none" stroke="#222" stroke-width="1.4"/>
<path d="M101.07 39.20v6.5M101.07 202.50v-6.5M145.35 39.20v6.5M145.35 202.50v-6.5M189.62 39.20v6.5M189.62 202.50v-6.5M233.90 39.20v6.5M233.90 202.50v-6.5M278.18 39.20v6.5M278.18 202.50v-6.5M322.45 39.20v6.5M322.45 202.50v-6.5M366.73 39.20v6.5M366.73 202.50v-6.5M56.80 161.68h6.5M411.00 161.68h-6.5M56.80 120.85h6.5M411.00 120.85h-6.5M56.80 80.02h6.5M411.00 80.02h-6.5" stroke="#222" stroke-width="1.4" fill="none"/>
<text transform="translate(56.80 232.00) scale(1 1.0)" text-anchor="middle">-4</text>
<text transform="translate(101.07 232.00) scale(1 1.0)" text-anchor="middle">-3</text>
<text transform="translate(145.35 232.00) scale(1 1.0)" text-anchor="middle">-2</text>
<g transform="translate(189.62 232.00) scale(1 1.0)"><text x="-10.05" y="0">-</text><path d="M5.39 0V-15.93" stroke="#000" stroke-width="2.21" fill="none"/><path d="M5.84 -15.59C4.03 -13.56 1.32 -12.43 -0.04 -11.75" stroke="#000" stroke-width="1.92" fill="none"/></g>
<text transform="translate(237.04 232.00) scale(1 1.0)" text-anchor="middle">0</text>
<g transform="translate(281.31 232.00) scale(1 1.0)"><path d="M1.63 0V-15.93" stroke="#000" stroke-width="2.21" fill="none"/><path d="M2.08 -15.59C0.27 -13.56 -2.44 -12.43 -3.80 -11.75" stroke="#000" stroke-width="1.92" fill="none"/></g>
<text transform="translate(325.59 232.00) scale(1 1.0)" text-anchor="middle">2</text>
<text transform="translate(369.86 232.00) scale(1 1.0)" text-anchor="middle">3</text>
<text transform="translate(414.14 232.00) scale(1 1.0)" text-anchor="middle">4</text>
<text transform="translate(429.50 210.30) scale(1 1.0)">0</text>
<g transform="translate(429.50 169.48) scale(1 1.0)"><path d="M7.91 0V-15.93" stroke="#000" stroke-width="2.21" fill="none"/><path d="M8.36 -15.59C6.55 -13.56 3.84 -12.43 2.49 -11.75" stroke="#000" stroke-width="1.92" fill="none"/></g>
<text transform="translate(429.50 128.65) scale(1 1.0)">2</text>
<text transform="translate(429.50 87.82) scale(1 1.0)">3</text>
<text transform="translate(429.50 47.00) scale(1 1.0)">4</text>
<path d="M216.10 14.60C216.80 12.70 218.00 11.80 219.60 11.80L225.70 11.80" stroke="#000" stroke-width="2.0" fill="none"/><path d="M221.40 11.80L221.00 19.90C220.80 23.00 224.10 23.10 224.60 19.80" stroke="#000" stroke-width="1.9" fill="none"/><text transform="translate(231.90 22.60) scale(1 1.0)">=</text><text transform="translate(251.00 22.60) scale(1 1.0)">0</text>
<g transform="translate(339.70 22.50) scale(1 1.0)"><text x="0.00" y="0">(2,2,-</text><path d="M60.66 0V-15.93" stroke="#000" stroke-width="2.21" fill="none"/><path d="M61.11 -15.59C59.30 -13.56 56.59 -12.43 55.23 -11.75" stroke="#000" stroke-width="1.92" fill="none"/><text x="65.32" y="0">)</text></g>
<text transform="translate(216.40 264.80) scale(1 1.0)" style="font-size:20.8px">v</text><text transform="translate(227.50 271.30) scale(1 1.0)" style="font-size:17.8px">||</text><text transform="translate(236.20 264.80) scale(1 1.0)" style="font-size:20.8px">/</text><text transform="translate(242.20 264.80) scale(1 1.0)" style="font-size:20.8px">v</text><text transform="translate(252.80 271.30) scale(1 1.0)" style="font-size:17.8px">ti</text>
<text transform="translate(26.60 179.70) rotate(-90) scale(0.9 1)">C(</text><text transform="translate(26.60 156.70) rotate(-90) scale(0.9 1)">v</text><path d="M32.40 146.00V135.00M32.40 140.50H21.60" stroke="#000" stroke-width="1.35" fill="none"/><text transform="translate(26.60 135.00) rotate(-90) scale(0.9 1)">,</text><text transform="translate(26.60 122.60) rotate(-90) scale(0.9 1)">v</text><path d="M20.00 110.10H36.50M20.00 105.40H36.50" stroke="#000" stroke-width="1.45" fill="none"/><text transform="translate(26.60 103.20) rotate(-90) scale(0.9 1)">,</text><text transform="translate(26.60 91.30) rotate(-90) scale(0.9 1)">t</text><text transform="translate(26.60 83.60) rotate(-90) scale(0.9 1)">)</text>
<text transform="translate(473.10 152.80) rotate(-90) scale(0.9 1)">v</text><path d="M479.10 141.60V130.60M479.10 136.10H467.90" stroke="#000" stroke-width="1.35" fill="none"/><text transform="translate(473.10 130.00) rotate(-90) scale(0.9 1)">/</text><text transform="translate(473.10 124.10) rotate(-90) scale(0.9 1)">v</text><text transform="translate(479.30 113.30) rotate(-90) scale(0.9 1)" style="font-size:17.8px">ti</text>
<rect x="500.0" y="35.2" width="20.0" height="187.30" fill="url(#jet)" stroke="#111" stroke-width="1.3"/>
<text transform="translate(538.60 61.93) scale(1 1.0)">2</text>
<g transform="translate(538.60 99.39) scale(1 1.0)"><path d="M7.91 0V-15.93" stroke="#000" stroke-width="2.21" fill="none"/><path d="M8.36 -15.59C6.55 -13.56 3.84 -12.43 2.49 -11.75" stroke="#000" stroke-width="1.92" fill="none"/></g>
<text transform="translate(538.60 136.85) scale(1 1.0)">0</text>
<g transform="translate(532.50 174.31) scale(1 1.0)"><text x="0.00" y="0">-</text><path d="M15.44 0V-15.93" stroke="#000" stroke-width="2.21" fill="none"/><path d="M15.89 -15.59C14.08 -13.56 11.37 -12.43 10.01 -11.75" stroke="#000" stroke-width="1.92" fill="none"/></g>
<text transform="translate(532.50 211.77) scale(1 1.0)">-2</text>
<path d="M500.00 53.93h6M520.00 53.93h-6M500.00 91.39h6M520.00 91.39h-6M500.00 128.85h6M520.00 128.85h-6M500.00 166.31h6M520.00 166.31h-6M500.00 203.77h6M520.00 203.77h-6" stroke="#222" stroke-width="1.3" fill="none"/>
</g>
<g transform="translate(-1.6,322.8)">
<path d="M233.90 202.50L407.52 199.46A173.65 160.2 0 0 0 60.28 199.46Z" fill="#94ff70"/>
<clipPath id="cpc"><path d="M233.90 202.50L407.52 199.46A173.65 160.2 0 0 0 60.28 199.46Z"/></clipPath>
<g clip-path="url(#cpc)"><path fill="#b3ff4c" stroke="#b3ff4c" stroke-width="0.5" d="M258.2 202.5A24.3 22.4 0 0 0 253.8 189.6L248.1 193.3A17.4 16.0 0 0 1 251.3 202.5ZM206.8 188.1A31.2 28.8 0 0 0 202.7 202.5L209.6 202.5A24.3 22.4 0 0 1 212.9 191.3ZM260.9 177.6A38.2 35.2 0 0 0 255.8 173.7L251.8 178.9A31.2 28.8 0 0 1 256.0 182.1ZM200.8 184.9A38.2 35.2 0 0 0 199.3 187.6L205.6 190.3A31.2 28.8 0 0 1 206.8 188.1ZM278.3 195.3A45.1 41.6 0 0 0 274.8 184.9L268.5 187.6A38.2 35.2 0 0 1 271.5 196.4ZM262.9 170.6A45.1 41.6 0 0 0 259.8 168.4L255.8 173.7A38.2 35.2 0 0 1 258.4 175.5ZM273.8 171.6A52.1 48.0 0 0 0 270.7 168.6L265.8 173.1A45.1 41.6 0 0 1 268.5 175.8ZM259.9 160.9A52.1 48.0 0 0 0 255.9 159.0L253.0 164.8A45.1 41.6 0 0 1 256.5 166.5ZM200.4 165.7A52.1 48.0 0 0 0 194.0 171.6L199.3 175.8A45.1 41.6 0 0 1 204.9 170.6ZM292.9 202.5A59.0 54.4 0 0 0 292.0 193.1L285.2 194.2A52.1 48.0 0 0 1 286.0 202.5ZM271.8 160.8A59.0 54.4 0 0 0 267.7 157.9L263.8 163.2A52.1 48.0 0 0 1 267.4 165.7ZM200.1 157.9A59.0 54.4 0 0 0 192.2 164.0L197.1 168.6A52.1 48.0 0 0 1 204.0 163.2ZM185.6 171.3A59.0 54.4 0 0 0 180.4 179.5L186.7 182.2A52.1 48.0 0 0 1 191.2 175.0ZM178.4 183.9A59.0 54.4 0 0 0 176.9 188.4L183.6 190.1A52.1 48.0 0 0 1 185.0 186.1ZM287.9 167.6A66.0 60.8 0 0 0 284.4 163.4L279.1 167.5A59.0 54.4 0 0 1 282.2 171.3ZM191.5 155.9A66.0 60.8 0 0 0 183.4 163.4L188.7 167.5A59.0 54.4 0 0 1 196.0 160.8ZM179.9 167.6A66.0 60.8 0 0 0 176.8 172.1L182.8 175.3A59.0 54.4 0 0 1 185.6 171.3ZM306.8 202.5A72.9 67.2 0 0 0 306.5 196.6L299.6 197.2A66.0 60.8 0 0 1 299.9 202.5ZM285.4 155.0A72.9 67.2 0 0 0 280.8 151.0L276.3 155.9A66.0 60.8 0 0 1 280.5 159.5ZM275.7 147.4A72.9 67.2 0 0 0 270.3 144.3L266.9 149.8A66.0 60.8 0 0 1 271.7 152.7ZM308.9 177.3A79.8 73.6 0 0 0 306.3 171.4L300.0 174.1A72.9 67.2 0 0 1 302.4 179.5ZM290.4 150.4A79.8 73.6 0 0 0 285.2 146.1L280.8 151.0A72.9 67.2 0 0 1 285.4 155.0ZM164.8 165.7A79.8 73.6 0 0 0 161.5 171.4L167.8 174.1A72.9 67.2 0 0 1 170.8 168.9ZM158.9 177.3A79.8 73.6 0 0 0 155.3 189.7L162.1 190.8A72.9 67.2 0 0 1 165.4 179.5ZM320.7 202.5A86.8 80.0 0 0 0 315.4 175.1L308.9 177.3A79.8 73.6 0 0 1 313.7 202.5ZM295.3 145.9A86.8 80.0 0 0 0 289.7 141.2L285.2 146.1A79.8 73.6 0 0 1 290.4 150.4ZM283.7 137.0A86.8 80.0 0 0 0 277.3 133.2L273.8 138.7A79.8 73.6 0 0 1 279.7 142.2ZM158.7 162.5A86.8 80.0 0 0 0 152.4 175.1L158.9 177.3A79.8 73.6 0 0 1 164.8 165.7ZM294.1 136.3A93.7 86.4 0 0 0 280.8 127.7L277.3 133.2A86.8 80.0 0 0 1 289.7 141.2ZM157.1 152.9A93.7 86.4 0 0 0 149.0 166.0L155.3 168.7A86.8 80.0 0 0 1 162.8 156.6ZM291.6 126.5A100.7 92.8 0 0 0 276.4 118.4L273.5 124.2A93.7 86.4 0 0 1 287.7 131.7ZM187.4 120.2A100.7 92.8 0 0 0 176.2 126.5L180.1 131.7A93.7 86.4 0 0 1 190.6 125.8ZM156.8 142.8A100.7 92.8 0 0 0 146.7 156.1L152.7 159.3A93.7 86.4 0 0 1 162.1 147.0ZM287.7 116.6A107.6 99.2 0 0 0 279.4 112.6L276.4 118.4A100.7 92.8 0 0 1 284.2 122.1ZM188.4 112.6A107.6 99.2 0 0 0 172.2 121.2L176.2 126.5A100.7 92.8 0 0 1 191.4 118.4ZM157.8 132.3A107.6 99.2 0 0 0 145.8 145.6L151.4 149.3A100.7 92.8 0 0 1 162.7 136.9ZM130.0 176.8A107.6 99.2 0 0 0 126.3 202.5L133.2 202.5A100.7 92.8 0 0 1 136.7 178.5ZM190.1 104.9A114.5 105.6 0 0 0 181.0 108.8L184.2 114.5A107.6 99.2 0 0 1 192.7 110.8ZM152.9 127.8A114.5 105.6 0 0 0 146.2 134.6L151.5 138.7A107.6 99.2 0 0 1 157.8 132.3Z"/><path fill="#75ff8a" stroke="#75ff8a" stroke-width="0.5" d="M265.1 202.5A31.2 28.8 0 0 0 259.5 186.0L253.8 189.6A24.3 22.4 0 0 1 258.2 202.5ZM263.1 179.9A38.2 35.2 0 0 0 260.9 177.6L256.0 182.1A31.2 28.8 0 0 1 257.8 184.0ZM198.0 190.5A38.2 35.2 0 0 0 197.0 193.4L203.7 195.0A31.2 28.8 0 0 1 204.5 192.6ZM274.8 184.9A45.1 41.6 0 0 0 273.0 181.7L267.0 184.9A38.2 35.2 0 0 1 268.5 187.6ZM265.8 173.1A45.1 41.6 0 0 0 262.9 170.6L258.4 175.5A38.2 35.2 0 0 1 260.9 177.6ZM263.8 163.2A52.1 48.0 0 0 0 259.9 160.9L256.5 166.5A45.1 41.6 0 0 1 259.8 168.4ZM186.7 182.2A52.1 48.0 0 0 0 185.0 186.1L191.5 188.3A45.1 41.6 0 0 1 193.0 184.9ZM267.7 157.9A59.0 54.4 0 0 0 263.4 155.4L259.9 160.9A52.1 48.0 0 0 1 263.8 163.2ZM192.2 164.0A59.0 54.4 0 0 0 188.7 167.5L194.0 171.6A52.1 48.0 0 0 1 197.1 168.6ZM271.7 152.7A66.0 60.8 0 0 0 266.9 149.8L263.4 155.4A59.0 54.4 0 0 1 267.7 157.9ZM183.4 163.4A66.0 60.8 0 0 0 179.9 167.6L185.6 171.3A59.0 54.4 0 0 1 188.7 167.5ZM306.5 196.6A72.9 67.2 0 0 0 305.7 190.8L298.9 191.9A66.0 60.8 0 0 1 299.6 197.2ZM289.7 159.3A72.9 67.2 0 0 0 285.4 155.0L280.5 159.5A66.0 60.8 0 0 1 284.4 163.4ZM270.3 144.3A72.9 67.2 0 0 0 264.7 141.6L261.8 147.4A66.0 60.8 0 0 1 266.9 149.8ZM306.3 171.4A79.8 73.6 0 0 0 303.0 165.7L297.0 168.9A72.9 67.2 0 0 1 300.0 174.1ZM295.1 155.2A79.8 73.6 0 0 0 290.4 150.4L285.4 155.0A72.9 67.2 0 0 1 289.7 159.3ZM273.8 138.7A79.8 73.6 0 0 0 267.6 135.8L264.7 141.6A72.9 67.2 0 0 1 270.3 144.3ZM309.1 162.5A86.8 80.0 0 0 0 300.4 151.1L295.1 155.2A79.8 73.6 0 0 1 303.0 165.7ZM277.3 133.2A86.8 80.0 0 0 0 270.6 130.0L267.6 135.8A79.8 73.6 0 0 1 273.8 138.7ZM162.8 156.6A86.8 80.0 0 0 0 158.7 162.5L164.8 165.7A79.8 73.6 0 0 1 168.5 160.3ZM152.4 175.1A86.8 80.0 0 0 0 150.1 181.8L156.8 183.4A79.8 73.6 0 0 1 158.9 177.3ZM280.8 127.7A93.7 86.4 0 0 0 273.5 124.2L270.6 130.0A86.8 80.0 0 0 1 277.3 133.2ZM162.1 147.0A93.7 86.4 0 0 0 157.1 152.9L162.8 156.6A86.8 80.0 0 0 1 167.4 151.1ZM149.0 166.0A93.7 86.4 0 0 0 145.8 172.9L152.4 175.1A86.8 80.0 0 0 1 155.3 168.7ZM162.7 136.9A100.7 92.8 0 0 0 156.8 142.8L162.1 147.0A93.7 86.4 0 0 1 167.6 141.4ZM142.7 163.3A100.7 92.8 0 0 0 136.7 178.5L143.4 180.1A93.7 86.4 0 0 1 149.0 166.0ZM164.7 126.5A107.6 99.2 0 0 0 157.8 132.3L162.7 136.9A100.7 92.8 0 0 1 169.2 131.4ZM140.7 152.9A107.6 99.2 0 0 0 132.8 168.6L139.3 170.8A100.7 92.8 0 0 1 146.7 156.1ZM168.2 116.0A114.5 105.6 0 0 0 160.3 121.6L164.7 126.5A107.6 99.2 0 0 1 172.2 121.2Z"/><path fill="#00f0ff" stroke="#00f0ff" stroke-width="0.5" d="M272.1 202.5A38.2 35.2 0 0 0 269.8 190.5L263.3 192.6A31.2 28.8 0 0 1 265.1 202.5ZM191.5 188.3A45.1 41.6 0 0 0 188.8 202.5L195.7 202.5A38.2 35.2 0 0 1 198.0 190.5ZM182.6 194.2A52.1 48.0 0 0 0 181.8 202.5L188.8 202.5A45.1 41.6 0 0 1 189.5 195.3ZM293.7 176.8A66.0 60.8 0 0 0 291.0 172.1L285.0 175.3A59.0 54.4 0 0 1 287.4 179.5ZM304.3 185.1A72.9 67.2 0 0 0 297.0 168.9L291.0 172.1A66.0 60.8 0 0 1 297.6 186.8ZM182.4 155.0A72.9 67.2 0 0 0 174.2 163.9L179.9 167.6A66.0 60.8 0 0 1 187.3 159.5ZM177.4 150.4A79.8 73.6 0 0 0 168.5 160.3L174.2 163.9A72.9 67.2 0 0 1 182.4 155.0ZM178.1 141.2A86.8 80.0 0 0 0 172.5 145.9L177.4 150.4A79.8 73.6 0 0 1 182.6 146.1Z"/><path fill="#1affe5" stroke="#1affe5" stroke-width="0.5" d="M269.8 190.5A38.2 35.2 0 0 0 267.0 184.9L261.0 188.1A31.2 28.8 0 0 1 263.3 192.6ZM270.9 178.6A45.1 41.6 0 0 0 268.5 175.8L263.1 179.9A38.2 35.2 0 0 1 265.2 182.3ZM199.3 175.8A45.1 41.6 0 0 0 196.9 178.6L202.6 182.3A38.2 35.2 0 0 1 204.7 179.9ZM183.6 190.1A52.1 48.0 0 0 0 182.6 194.2L189.5 195.3A45.1 41.6 0 0 1 190.3 191.7ZM291.0 172.1A66.0 60.8 0 0 0 287.9 167.6L282.2 171.3A59.0 54.4 0 0 1 285.0 175.3ZM305.7 190.8A72.9 67.2 0 0 0 304.3 185.1L297.6 186.8A66.0 60.8 0 0 1 298.9 191.9ZM297.0 168.9A72.9 67.2 0 0 0 293.6 163.9L287.9 167.6A66.0 60.8 0 0 1 291.0 172.1ZM174.2 163.9A72.9 67.2 0 0 0 170.8 168.9L176.8 172.1A66.0 60.8 0 0 1 179.9 167.6ZM168.5 160.3A79.8 73.6 0 0 0 164.8 165.7L170.8 168.9A72.9 67.2 0 0 1 174.2 163.9ZM167.4 151.1A86.8 80.0 0 0 0 162.8 156.6L168.5 160.3A79.8 73.6 0 0 1 172.7 155.2ZM148.4 188.6A86.8 80.0 0 0 0 147.1 202.5L154.1 202.5A79.8 73.6 0 0 1 155.3 189.7ZM180.1 131.7A93.7 86.4 0 0 0 173.7 136.3L178.1 141.2A86.8 80.0 0 0 1 184.1 137.0ZM167.6 141.4A93.7 86.4 0 0 0 162.1 147.0L167.4 151.1A86.8 80.0 0 0 1 172.5 145.9ZM141.6 187.5A93.7 86.4 0 0 0 140.2 202.5L147.1 202.5A86.8 80.0 0 0 1 148.4 188.6ZM176.2 126.5A100.7 92.8 0 0 0 162.7 136.9L167.6 141.4A93.7 86.4 0 0 1 180.1 131.7Z"/><path fill="#4dffb3" stroke="#4dffb3" stroke-width="0.5" d="M267.0 184.9A38.2 35.2 0 0 0 263.1 179.9L257.8 184.0A31.2 28.8 0 0 1 261.0 188.1ZM199.3 187.6A38.2 35.2 0 0 0 198.0 190.5L204.5 192.6A31.2 28.8 0 0 1 205.6 190.3ZM197.0 193.4A38.2 35.2 0 0 0 195.7 202.5L202.7 202.5A31.2 28.8 0 0 1 203.7 195.0ZM273.0 181.7A45.1 41.6 0 0 0 270.9 178.6L265.2 182.3A38.2 35.2 0 0 1 267.0 184.9ZM268.5 175.8A45.1 41.6 0 0 0 265.8 173.1L260.9 177.6A38.2 35.2 0 0 1 263.1 179.9ZM202.0 173.1A45.1 41.6 0 0 0 199.3 175.8L204.7 179.9A38.2 35.2 0 0 1 206.9 177.6ZM270.7 168.6A52.1 48.0 0 0 0 263.8 163.2L259.8 168.4A45.1 41.6 0 0 1 265.8 173.1ZM194.0 171.6A52.1 48.0 0 0 0 191.2 175.0L196.9 178.6A45.1 41.6 0 0 1 199.3 175.8ZM185.0 186.1A52.1 48.0 0 0 0 183.6 190.1L190.3 191.7A45.1 41.6 0 0 1 191.5 188.3ZM263.4 155.4A59.0 54.4 0 0 0 258.8 153.2L255.9 159.0A52.1 48.0 0 0 1 259.9 160.9ZM188.7 167.5A59.0 54.4 0 0 0 185.6 171.3L191.2 175.0A52.1 48.0 0 0 1 194.0 171.6ZM180.4 179.5A59.0 54.4 0 0 0 178.4 183.9L185.0 186.1A52.1 48.0 0 0 1 186.7 182.2ZM266.9 149.8A66.0 60.8 0 0 0 261.8 147.4L258.8 153.2A59.0 54.4 0 0 1 263.4 155.4ZM293.6 163.9A72.9 67.2 0 0 0 289.7 159.3L284.4 163.4A66.0 60.8 0 0 1 287.9 167.6ZM264.7 141.6A72.9 67.2 0 0 0 261.8 140.4L259.1 146.3A66.0 60.8 0 0 1 261.8 147.4ZM303.0 165.7A79.8 73.6 0 0 0 295.1 155.2L289.7 159.3A72.9 67.2 0 0 1 297.0 168.9ZM267.6 135.8A79.8 73.6 0 0 0 261.2 133.3L258.8 139.3A72.9 67.2 0 0 1 264.7 141.6ZM155.3 189.7A79.8 73.6 0 0 0 154.1 202.5L161.0 202.5A72.9 67.2 0 0 1 162.1 190.8ZM270.6 130.0A86.8 80.0 0 0 0 260.0 126.2L257.9 132.3A79.8 73.6 0 0 1 267.6 135.8ZM150.1 181.8A86.8 80.0 0 0 0 148.4 188.6L155.3 189.7A79.8 73.6 0 0 1 156.8 183.4ZM145.8 172.9A93.7 86.4 0 0 0 141.6 187.5L148.4 188.6A86.8 80.0 0 0 1 152.4 175.1ZM134.8 186.4A100.7 92.8 0 0 0 133.2 202.5L140.2 202.5A93.7 86.4 0 0 1 141.6 187.5ZM172.2 121.2A107.6 99.2 0 0 0 164.7 126.5L169.2 131.4A100.7 92.8 0 0 1 176.2 126.5ZM176.6 111.0A114.5 105.6 0 0 0 168.2 116.0L172.2 121.2A107.6 99.2 0 0 1 180.1 116.6Z"/><path fill="#dbff24" stroke="#dbff24" stroke-width="0.5" d="M279.0 202.5A45.1 41.6 0 0 0 278.3 195.3L271.5 196.4A38.2 35.2 0 0 1 272.1 202.5ZM176.9 188.4A59.0 54.4 0 0 0 175.8 193.1L182.6 194.2A52.1 48.0 0 0 1 183.6 190.1ZM276.3 155.9A66.0 60.8 0 0 0 271.7 152.7L267.7 157.9A59.0 54.4 0 0 1 271.8 160.8ZM312.5 189.7A79.8 73.6 0 0 0 308.9 177.3L302.4 179.5A72.9 67.2 0 0 1 305.7 190.8ZM285.2 146.1A79.8 73.6 0 0 0 273.8 138.7L270.3 144.3A72.9 67.2 0 0 1 280.8 151.0ZM161.5 171.4A79.8 73.6 0 0 0 158.9 177.3L165.4 179.5A72.9 67.2 0 0 1 167.8 174.1ZM289.7 141.2A86.8 80.0 0 0 0 283.7 137.0L279.7 142.2A79.8 73.6 0 0 1 285.2 146.1ZM190.5 133.2A86.8 80.0 0 0 0 184.1 137.0L188.1 142.2A79.8 73.6 0 0 1 194.0 138.7Z"/><path fill="#00c7ff" stroke="#00c7ff" stroke-width="0.5" d="M196.9 178.6A45.1 41.6 0 0 0 191.5 188.3L198.0 190.5A38.2 35.2 0 0 1 202.6 182.3ZM191.2 175.0A52.1 48.0 0 0 0 186.7 182.2L193.0 184.9A45.1 41.6 0 0 1 196.9 178.6Z"/><path fill="#fa0000" stroke="#fa0000" stroke-width="0.5" d="M286.0 202.5A52.1 48.0 0 0 0 284.2 190.1L277.5 191.7A45.1 41.6 0 0 1 279.0 202.5ZM170.2 186.8A66.0 60.8 0 0 0 168.9 191.9L175.8 193.1A59.0 54.4 0 0 1 176.9 188.4Z"/><path fill="#ff2400" stroke="#ff2400" stroke-width="0.5" d="M284.2 190.1A52.1 48.0 0 0 0 282.8 186.1L276.3 188.3A45.1 41.6 0 0 1 277.5 191.7Z"/><path fill="#ff7500" stroke="#ff7500" stroke-width="0.5" d="M282.8 186.1A52.1 48.0 0 0 0 281.1 182.2L274.8 184.9A45.1 41.6 0 0 1 276.3 188.3ZM290.9 188.4A59.0 54.4 0 0 0 289.4 183.9L282.8 186.1A52.1 48.0 0 0 1 284.2 190.1ZM287.4 179.5A59.0 54.4 0 0 0 285.0 175.3L279.0 178.5A52.1 48.0 0 0 1 281.1 182.2ZM165.4 179.5A72.9 67.2 0 0 0 161.0 202.5L167.9 202.5A66.0 60.8 0 0 1 171.9 181.7Z"/><path fill="#ff4c00" stroke="#ff4c00" stroke-width="0.5" d="M281.1 182.2A52.1 48.0 0 0 0 279.0 178.5L273.0 181.7A45.1 41.6 0 0 1 274.8 184.9ZM171.9 181.7A66.0 60.8 0 0 0 170.2 186.8L176.9 188.4A59.0 54.4 0 0 1 178.4 183.9Z"/><path fill="#ffc700" stroke="#ffc700" stroke-width="0.5" d="M279.0 178.5A52.1 48.0 0 0 0 276.6 175.0L270.9 178.6A45.1 41.6 0 0 1 273.0 181.7ZM282.2 171.3A59.0 54.4 0 0 0 279.1 167.5L273.8 171.6A52.1 48.0 0 0 1 276.6 175.0ZM167.8 174.1A72.9 67.2 0 0 0 165.4 179.5L171.9 181.7A66.0 60.8 0 0 1 174.1 176.8ZM182.6 146.1A79.8 73.6 0 0 0 177.4 150.4L182.4 155.0A72.9 67.2 0 0 1 187.0 151.0ZM184.1 137.0A86.8 80.0 0 0 0 178.1 141.2L182.6 146.1A79.8 73.6 0 0 1 188.1 142.2Z"/><path fill="#fff000" stroke="#fff000" stroke-width="0.5" d="M276.6 175.0A52.1 48.0 0 0 0 273.8 171.6L268.5 175.8A45.1 41.6 0 0 1 270.9 178.6ZM292.0 193.1A59.0 54.4 0 0 0 290.9 188.4L284.2 190.1A52.1 48.0 0 0 1 285.2 194.2ZM279.1 167.5A59.0 54.4 0 0 0 271.8 160.8L267.4 165.7A52.1 48.0 0 0 1 273.8 171.6ZM175.8 193.1A59.0 54.4 0 0 0 174.9 202.5L181.8 202.5A52.1 48.0 0 0 1 182.6 194.2ZM284.4 163.4A66.0 60.8 0 0 0 276.3 155.9L271.8 160.8A59.0 54.4 0 0 1 279.1 167.5ZM176.8 172.1A66.0 60.8 0 0 0 174.1 176.8L180.4 179.5A59.0 54.4 0 0 1 182.8 175.3ZM280.8 151.0A72.9 67.2 0 0 0 275.7 147.4L271.7 152.7A66.0 60.8 0 0 1 276.3 155.9ZM170.8 168.9A72.9 67.2 0 0 0 167.8 174.1L174.1 176.8A66.0 60.8 0 0 1 176.8 172.1ZM313.7 202.5A79.8 73.6 0 0 0 312.5 189.7L305.7 190.8A72.9 67.2 0 0 1 306.8 202.5ZM188.1 142.2A79.8 73.6 0 0 0 182.6 146.1L187.0 151.0A72.9 67.2 0 0 1 192.1 147.4ZM187.0 127.7A93.7 86.4 0 0 0 180.1 131.7L184.1 137.0A86.8 80.0 0 0 1 190.5 133.2Z"/><path fill="#ff9e00" stroke="#ff9e00" stroke-width="0.5" d="M289.4 183.9A59.0 54.4 0 0 0 287.4 179.5L281.1 182.2A52.1 48.0 0 0 1 282.8 186.1ZM285.0 175.3A59.0 54.4 0 0 0 282.2 171.3L276.6 175.0A52.1 48.0 0 0 1 279.0 178.5ZM174.1 176.8A66.0 60.8 0 0 0 171.9 181.7L178.4 183.9A59.0 54.4 0 0 1 180.4 179.5Z"/><path fill="#009eff" stroke="#009eff" stroke-width="0.5" d="M299.9 202.5A66.0 60.8 0 0 0 293.7 176.8L287.4 179.5A59.0 54.4 0 0 1 292.9 202.5ZM172.5 145.9A86.8 80.0 0 0 0 167.4 151.1L172.7 155.2A79.8 73.6 0 0 1 177.4 150.4ZM173.7 136.3A93.7 86.4 0 0 0 167.6 141.4L172.5 145.9A86.8 80.0 0 0 1 178.1 141.2Z"/><path fill="#d10000" stroke="#d10000" stroke-width="0.5" d="M168.9 191.9A66.0 60.8 0 0 0 167.9 202.5L174.9 202.5A59.0 54.4 0 0 1 175.8 193.1Z"/></g>
<line x1="178.56" y1="44.20" x2="178.56" y2="202.50" stroke="#000" stroke-width="1.1" stroke-dasharray="2.3 2 2.3 6"/>
<line x1="289.24" y1="44.20" x2="289.24" y2="202.50" stroke="#000" stroke-width="1.1" stroke-dasharray="2.3 2 2.3 6"/>
<rect x="56.8" y="39.2" width="354.20" height="163.30" fill="none" stroke="#222" stroke-width="1.4"/>
<path d="M101.07 39.20v6.5M101.07 202.50v-6.5M145.35 39.20v6.5M145.35 202.50v-6.5M189.62 39.20v6.5M189.62 202.50v-6.5M233.90 39.20v6.5M233.90 202.50v-6.5M278.18 39.20v6.5M278.18 202.50v-6.5M322.45 39.20v6.5M322.45 202.50v-6.5M366.73 39.20v6.5M366.73 202.50v-6.5M56.80 161.68h6.5M411.00 161.68h-6.5M56.80 120.85h6.5M411.00 120.85h-6.5M56.80 80.02h6.5M411.00 80.02h-6.5" stroke="#222" stroke-width="1.4" fill="none"/>
<text transform="translate(56.80 232.00) scale(1 1.0)" text-anchor="middle">-4</text>
<text transform="translate(101.07 232.00) scale(1 1.0)" text-anchor="middle">-3</text>
<text transform="translate(145.35 232.00) scale(1 1.0)" text-anchor="middle">-2</text>
<g transform="translate(189.62 232.00) scale(1 1.0)"><text x="-10.05" y="0">-</text><path d="M5.39 0V-15.93" stroke="#000" stroke-width="2.21" fill="none"/><path d="M5.84 -15.59C4.03 -13.56 1.32 -12.43 -0.04 -11.75" stroke="#000" stroke-width="1.92" fill="none"/></g>
<text transform="translate(237.04 232.00) scale(1 1.0)" text-anchor="middle">0</text>
<g transform="translate(281.31 232.00) scale(1 1.0)"><path d="M1.63 0V-15.93" stroke="#000" stroke-width="2.21" fill="none"/><path d="M2.08 -15.59C0.27 -13.56 -2.44 -12.43 -3.80 -11.75" stroke="#000" stroke-width="1.92" fill="none"/></g>
<text transform="translate(325.59 232.00) scale(1 1.0)" text-anchor="middle">2</text>
<text transform="translate(369.86 232.00) scale(1 1.0)" text-anchor="middle">3</text>
<text transform="translate(414.14 232.00) scale(1 1.0)" text-anchor="middle">4</text>
<text transform="translate(429.50 210.30) scale(1 1.0)">0</text>
<g transform="translate(429.50 169.48) scale(1 1.0)"><path d="M7.91 0V-15.93" stroke="#000" stroke-width="2.21" fill="none"/><path d="M8.36 -15.59C6.55 -13.56 3.84 -12.43 2.49 -11.75" stroke="#000" stroke-width="1.92" fill="none"/></g>
<text transform="translate(429.50 128.65) scale(1 1.0)">2</text>
<text transform="translate(429.50 87.82) scale(1 1.0)">3</text>
<text transform="translate(429.50 47.00) scale(1 1.0)">4</text>
<path d="M209.20 12.30C209.90 10.40 211.10 9.50 212.70 9.50L218.80 9.50" stroke="#000" stroke-width="2.0" fill="none"/><path d="M214.50 9.50L214.10 17.60C213.90 20.70 217.20 20.80 217.70 17.50" stroke="#000" stroke-width="1.9" fill="none"/><text transform="translate(225.10 20.00) scale(1 1.0)">=</text><text transform="translate(243.50 20.00) scale(1 1.0)">2</text><path d="M256.50 12.30C257.20 10.40 258.40 9.50 260.00 9.50L266.10 9.50" stroke="#000" stroke-width="2.0" fill="none"/><path d="M261.80 9.50L261.40 17.60C261.20 20.70 264.50 20.80 265.00 17.50" stroke="#000" stroke-width="1.9" fill="none"/><text transform="translate(265.80 26.80) scale(1 1.0)" style="font-size:17.8px">k</text>
<g transform="translate(339.70 22.50) scale(1 1.0)"><text x="0.00" y="0">(</text><path d="M15.44 0V-15.93" stroke="#000" stroke-width="2.21" fill="none"/><path d="M15.89 -15.59C14.08 -13.56 11.37 -12.43 10.01 -11.75" stroke="#000" stroke-width="1.92" fill="none"/><text x="20.10" y="0">,</text><path d="M34.28 0V-15.93" stroke="#000" stroke-width="2.21" fill="none"/><path d="M34.74 -15.59C32.93 -13.56 30.22 -12.43 28.86 -11.75" stroke="#000" stroke-width="1.92" fill="none"/><text x="38.94" y="0">,+3)</text></g>
<text transform="translate(216.40 264.80) scale(1 1.0)" style="font-size:20.8px">v</text><text transform="translate(227.50 271.30) scale(1 1.0)" style="font-size:17.8px">||</text><text transform="translate(236.20 264.80) scale(1 1.0)" style="font-size:20.8px">/</text><text transform="translate(242.20 264.80) scale(1 1.0)" style="font-size:20.8px">v</text><text transform="translate(252.80 271.30) scale(1 1.0)" style="font-size:17.8px">ti</text>
<text transform="translate(26.60 179.70) rotate(-90) scale(0.9 1)">C(</text><text transform="translate(26.60 156.70) rotate(-90) scale(0.9 1)">v</text><path d="M32.40 146.00V135.00M32.40 140.50H21.60" stroke="#000" stroke-width="1.35" fill="none"/><text transform="translate(26.60 135.00) rotate(-90) scale(0.9 1)">,</text><text transform="translate(26.60 122.60) rotate(-90) scale(0.9 1)">v</text><path d="M20.00 110.10H36.50M20.00 105.40H36.50" stroke="#000" stroke-width="1.45" fill="none"/><text transform="translate(26.60 103.20) rotate(-90) scale(0.9 1)">,</text><text transform="translate(26.60 91.30) rotate(-90) scale(0.9 1)">t</text><text transform="translate(26.60 83.60) rotate(-90) scale(0.9 1)">)</text>
<text transform="translate(473.10 152.80) rotate(-90) scale(0.9 1)">v</text><path d="M479.10 141.60V130.60M479.10 136.10H467.90" stroke="#000" stroke-width="1.35" fill="none"/><text transform="translate(473.10 130.00) rotate(-90) scale(0.9 1)">/</text><text transform="translate(473.10 124.10) rotate(-90) scale(0.9 1)">v</text><text transform="translate(479.30 113.30) rotate(-90) scale(0.9 1)" style="font-size:17.8px">ti</text>
<rect x="500.0" y="35.2" width="20.0" height="187.30" fill="url(#jet)" stroke="#111" stroke-width="1.3"/>
<text transform="translate(538.60 61.93) scale(1 1.0)">2</text>
<g transform="translate(538.60 99.39) scale(1 1.0)"><path d="M7.91 0V-15.93" stroke="#000" stroke-width="2.21" fill="none"/><path d="M8.36 -15.59C6.55 -13.56 3.84 -12.43 2.49 -11.75" stroke="#000" stroke-width="1.92" fill="none"/></g>
<text transform="translate(538.60 136.85) scale(1 1.0)">0</text>
<g transform="translate(532.50 174.31) scale(1 1.0)"><text x="0.00" y="0">-</text><path d="M15.44 0V-15.93" stroke="#000" stroke-width="2.21" fill="none"/><path d="M15.89 -15.59C14.08 -13.56 11.37 -12.43 10.01 -11.75" stroke="#000" stroke-width="1.92" fill="none"/></g>
<text transform="translate(532.50 211.77) scale(1 1.0)">-2</text>
<path d="M500.00 53.93h6M520.00 53.93h-6M500.00 91.39h6M520.00 91.39h-6M500.00 128.85h6M520.00 128.85h-6M500.00 166.31h6M520.00 166.31h-6M500.00 203.77h6M520.00 203.77h-6" stroke="#222" stroke-width="1.3" fill="none"/>
</g>
<g transform="translate(595.2,322.8)">
<path d="M233.90 202.50L407.52 199.46A173.65 160.2 0 0 0 60.28 199.46Z" fill="#94ff70"/>
<clipPath id="cpd"><path d="M233.90 202.50L407.52 199.46A173.65 160.2 0 0 0 60.28 199.46Z"/></clipPath>
<g clip-path="url(#cpd)"><path fill="#b3ff4c" stroke="#b3ff4c" stroke-width="0.5" d="M258.2 202.5A24.3 22.4 0 0 0 253.8 189.6L248.1 193.3A17.4 16.0 0 0 1 251.3 202.5ZM263.3 192.6A31.2 28.8 0 0 0 259.5 186.0L253.8 189.6A24.3 22.4 0 0 1 256.7 194.8ZM204.5 192.6A31.2 28.8 0 0 0 202.7 202.5L209.6 202.5A24.3 22.4 0 0 1 211.1 194.8ZM265.2 182.3A38.2 35.2 0 0 0 260.9 177.6L256.0 182.1A31.2 28.8 0 0 1 259.5 186.0ZM200.8 184.9A38.2 35.2 0 0 0 196.3 196.4L203.1 197.5A31.2 28.8 0 0 1 206.8 188.1ZM265.8 173.1A45.1 41.6 0 0 0 262.9 170.6L258.4 175.5A38.2 35.2 0 0 1 260.9 177.6ZM202.0 173.1A45.1 41.6 0 0 0 194.8 181.7L200.8 184.9A38.2 35.2 0 0 1 206.9 177.6ZM204.0 163.2A52.1 48.0 0 0 0 194.0 171.6L199.3 175.8A45.1 41.6 0 0 1 208.0 168.4ZM186.7 182.2A52.1 48.0 0 0 0 185.0 186.1L191.5 188.3A45.1 41.6 0 0 1 193.0 184.9ZM292.9 202.5A59.0 54.4 0 0 0 292.0 193.1L285.2 194.2A52.1 48.0 0 0 1 286.0 202.5ZM200.1 157.9A59.0 54.4 0 0 0 196.0 160.8L200.4 165.7A52.1 48.0 0 0 1 204.0 163.2ZM192.2 164.0A59.0 54.4 0 0 0 188.7 167.5L194.0 171.6A52.1 48.0 0 0 1 197.1 168.6ZM297.6 186.8A66.0 60.8 0 0 0 295.9 181.7L289.4 183.9A59.0 54.4 0 0 1 290.9 188.4ZM284.4 163.4A66.0 60.8 0 0 0 276.3 155.9L271.8 160.8A59.0 54.4 0 0 1 279.1 167.5ZM196.1 152.7A66.0 60.8 0 0 0 191.5 155.9L196.0 160.8A59.0 54.4 0 0 1 200.1 157.9ZM187.3 159.5A66.0 60.8 0 0 0 183.4 163.4L188.7 167.5A59.0 54.4 0 0 1 192.2 164.0ZM305.7 190.8A72.9 67.2 0 0 0 300.0 174.1L293.7 176.8A66.0 60.8 0 0 1 298.9 191.9ZM285.4 155.0A72.9 67.2 0 0 0 280.8 151.0L276.3 155.9A66.0 60.8 0 0 1 280.5 159.5ZM167.8 174.1A72.9 67.2 0 0 0 161.0 202.5L167.9 202.5A66.0 60.8 0 0 1 174.1 176.8ZM313.7 202.5A79.8 73.6 0 0 0 311.0 183.4L304.3 185.1A72.9 67.2 0 0 1 306.8 202.5ZM306.3 171.4A79.8 73.6 0 0 0 285.2 146.1L280.8 151.0A72.9 67.2 0 0 1 300.0 174.1ZM182.6 146.1A79.8 73.6 0 0 0 172.7 155.2L178.1 159.3A72.9 67.2 0 0 1 187.0 151.0ZM320.7 202.5A86.8 80.0 0 0 0 283.7 137.0L279.7 142.2A79.8 73.6 0 0 1 313.7 202.5ZM187.3 135.0A86.8 80.0 0 0 0 184.1 137.0L188.1 142.2A79.8 73.6 0 0 1 191.0 140.4ZM178.1 141.2A86.8 80.0 0 0 0 167.4 151.1L172.7 155.2A79.8 73.6 0 0 1 182.6 146.1ZM305.7 147.0A93.7 86.4 0 0 0 287.7 131.7L283.7 137.0A86.8 80.0 0 0 1 300.4 151.1ZM187.0 127.7A93.7 86.4 0 0 0 176.8 133.9L181.1 139.0A86.8 80.0 0 0 1 190.5 133.2ZM298.6 131.4A100.7 92.8 0 0 0 284.2 122.1L280.8 127.7A93.7 86.4 0 0 1 294.1 136.3ZM299.4 123.8A107.6 99.2 0 0 0 291.7 118.8L288.0 124.2A100.7 92.8 0 0 1 295.2 128.9Z"/><path fill="#75ff8a" stroke="#75ff8a" stroke-width="0.5" d="M265.1 202.5A31.2 28.8 0 0 0 263.3 192.6L256.7 194.8A24.3 22.4 0 0 1 258.2 202.5ZM269.8 190.5A38.2 35.2 0 0 0 265.2 182.3L259.5 186.0A31.2 28.8 0 0 1 263.3 192.6ZM268.5 175.8A45.1 41.6 0 0 0 265.8 173.1L260.9 177.6A38.2 35.2 0 0 1 263.1 179.9ZM270.7 168.6A52.1 48.0 0 0 0 267.4 165.7L262.9 170.6A45.1 41.6 0 0 1 265.8 173.1ZM271.8 160.8A59.0 54.4 0 0 0 267.7 157.9L263.8 163.2A52.1 48.0 0 0 1 267.4 165.7ZM188.7 167.5A59.0 54.4 0 0 0 185.6 171.3L191.2 175.0A52.1 48.0 0 0 1 194.0 171.6ZM276.3 155.9A66.0 60.8 0 0 0 271.7 152.7L267.7 157.9A59.0 54.4 0 0 1 271.8 160.8ZM183.4 163.4A66.0 60.8 0 0 0 179.9 167.6L185.6 171.3A59.0 54.4 0 0 1 188.7 167.5ZM275.7 147.4A72.9 67.2 0 0 0 270.3 144.3L266.9 149.8A66.0 60.8 0 0 1 271.7 152.7ZM187.0 151.0A72.9 67.2 0 0 0 182.4 155.0L187.3 159.5A66.0 60.8 0 0 1 191.5 155.9ZM178.1 159.3A72.9 67.2 0 0 0 174.2 163.9L179.9 167.6A66.0 60.8 0 0 1 183.4 163.4ZM170.8 168.9A72.9 67.2 0 0 0 167.8 174.1L174.1 176.8A66.0 60.8 0 0 1 176.8 172.1ZM279.7 142.2A79.8 73.6 0 0 0 273.8 138.7L270.3 144.3A72.9 67.2 0 0 1 275.7 147.4ZM168.5 160.3A79.8 73.6 0 0 0 164.8 165.7L170.8 168.9A72.9 67.2 0 0 1 174.2 163.9ZM283.7 137.0A86.8 80.0 0 0 0 270.6 130.0L267.6 135.8A79.8 73.6 0 0 1 279.7 142.2ZM167.4 151.1A86.8 80.0 0 0 0 162.8 156.6L168.5 160.3A79.8 73.6 0 0 1 172.7 155.2ZM280.8 127.7A93.7 86.4 0 0 0 273.5 124.2L270.6 130.0A86.8 80.0 0 0 1 277.3 133.2ZM176.8 133.9A93.7 86.4 0 0 0 164.8 144.1L169.9 148.4A86.8 80.0 0 0 1 181.1 139.0ZM284.2 122.1A100.7 92.8 0 0 0 272.4 116.7L269.8 122.7A93.7 86.4 0 0 1 280.8 127.7ZM169.2 131.4A100.7 92.8 0 0 0 165.9 134.1L170.6 138.8A93.7 86.4 0 0 1 173.7 136.3Z"/><path fill="#4dffb3" stroke="#4dffb3" stroke-width="0.5" d="M272.1 202.5A38.2 35.2 0 0 0 269.8 190.5L263.3 192.6A31.2 28.8 0 0 1 265.1 202.5ZM270.9 178.6A45.1 41.6 0 0 0 268.5 175.8L263.1 179.9A38.2 35.2 0 0 1 265.2 182.3ZM286.0 202.5A52.1 48.0 0 0 0 285.2 194.2L278.3 195.3A45.1 41.6 0 0 1 279.0 202.5ZM273.8 171.6A52.1 48.0 0 0 0 270.7 168.6L265.8 173.1A45.1 41.6 0 0 1 268.5 175.8ZM185.0 186.1A52.1 48.0 0 0 0 183.6 190.1L190.3 191.7A45.1 41.6 0 0 1 191.5 188.3ZM282.2 171.3A59.0 54.4 0 0 0 279.1 167.5L273.8 171.6A52.1 48.0 0 0 1 276.6 175.0ZM275.6 164.0A59.0 54.4 0 0 0 271.8 160.8L267.4 165.7A52.1 48.0 0 0 1 270.7 168.6ZM185.6 171.3A59.0 54.4 0 0 0 182.8 175.3L188.8 178.5A52.1 48.0 0 0 1 191.2 175.0ZM271.7 152.7A66.0 60.8 0 0 0 261.8 147.4L258.8 153.2A59.0 54.4 0 0 1 267.7 157.9ZM179.9 167.6A66.0 60.8 0 0 0 176.8 172.1L182.8 175.3A59.0 54.4 0 0 1 185.6 171.3ZM168.9 191.9A66.0 60.8 0 0 0 167.9 202.5L174.9 202.5A59.0 54.4 0 0 1 175.8 193.1ZM270.3 144.3A72.9 67.2 0 0 0 264.7 141.6L261.8 147.4A66.0 60.8 0 0 1 266.9 149.8ZM182.4 155.0A72.9 67.2 0 0 0 178.1 159.3L183.4 163.4A66.0 60.8 0 0 1 187.3 159.5ZM174.2 163.9A72.9 67.2 0 0 0 170.8 168.9L176.8 172.1A66.0 60.8 0 0 1 179.9 167.6ZM273.8 138.7A79.8 73.6 0 0 0 267.6 135.8L264.7 141.6A72.9 67.2 0 0 1 270.3 144.3ZM172.7 155.2A79.8 73.6 0 0 0 168.5 160.3L174.2 163.9A72.9 67.2 0 0 1 178.1 159.3Z"/><path fill="#dbff24" stroke="#dbff24" stroke-width="0.5" d="M196.3 196.4A38.2 35.2 0 0 0 195.7 202.5L202.7 202.5A31.2 28.8 0 0 1 203.1 197.5ZM194.8 181.7A45.1 41.6 0 0 0 193.0 184.9L199.3 187.6A38.2 35.2 0 0 1 200.8 184.9ZM194.0 171.6A52.1 48.0 0 0 0 186.7 182.2L193.0 184.9A45.1 41.6 0 0 1 199.3 175.8ZM292.0 193.1A59.0 54.4 0 0 0 290.9 188.4L284.2 190.1A52.1 48.0 0 0 1 285.2 194.2ZM285.0 175.3A59.0 54.4 0 0 0 282.2 171.3L276.6 175.0A52.1 48.0 0 0 1 279.0 178.5ZM298.9 191.9A66.0 60.8 0 0 0 297.6 186.8L290.9 188.4A59.0 54.4 0 0 1 292.0 193.1ZM295.9 181.7A66.0 60.8 0 0 0 293.7 176.8L287.4 179.5A59.0 54.4 0 0 1 289.4 183.9ZM306.5 196.6A72.9 67.2 0 0 0 305.7 190.8L298.9 191.9A66.0 60.8 0 0 1 299.6 197.2ZM300.0 174.1A72.9 67.2 0 0 0 289.7 159.3L284.4 163.4A66.0 60.8 0 0 1 293.7 176.8Z"/><path fill="#00f0ff" stroke="#00f0ff" stroke-width="0.5" d="M279.0 202.5A45.1 41.6 0 0 0 274.8 184.9L268.5 187.6A38.2 35.2 0 0 1 272.1 202.5ZM281.1 182.2A52.1 48.0 0 0 0 276.6 175.0L270.9 178.6A45.1 41.6 0 0 1 274.8 184.9ZM182.8 175.3A59.0 54.4 0 0 0 180.4 179.5L186.7 182.2A52.1 48.0 0 0 1 188.8 178.5ZM174.1 176.8A66.0 60.8 0 0 0 170.2 186.8L176.9 188.4A59.0 54.4 0 0 1 180.4 179.5Z"/><path fill="#1affe5" stroke="#1affe5" stroke-width="0.5" d="M274.8 184.9A45.1 41.6 0 0 0 270.9 178.6L265.2 182.3A38.2 35.2 0 0 1 268.5 187.6ZM285.2 194.2A52.1 48.0 0 0 0 281.1 182.2L274.8 184.9A45.1 41.6 0 0 1 278.3 195.3ZM276.6 175.0A52.1 48.0 0 0 0 273.8 171.6L268.5 175.8A45.1 41.6 0 0 1 270.9 178.6ZM183.6 190.1A52.1 48.0 0 0 0 181.8 202.5L188.8 202.5A45.1 41.6 0 0 1 190.3 191.7ZM279.1 167.5A59.0 54.4 0 0 0 275.6 164.0L270.7 168.6A52.1 48.0 0 0 1 273.8 171.6ZM176.8 172.1A66.0 60.8 0 0 0 174.1 176.8L180.4 179.5A59.0 54.4 0 0 1 182.8 175.3ZM170.2 186.8A66.0 60.8 0 0 0 168.9 191.9L175.8 193.1A59.0 54.4 0 0 1 176.9 188.4Z"/><path fill="#fff000" stroke="#fff000" stroke-width="0.5" d="M193.0 184.9A45.1 41.6 0 0 0 191.5 188.3L198.0 190.5A38.2 35.2 0 0 1 199.3 187.6ZM290.9 188.4A59.0 54.4 0 0 0 285.0 175.3L279.0 178.5A52.1 48.0 0 0 1 284.2 190.1ZM299.9 202.5A66.0 60.8 0 0 0 298.9 191.9L292.0 193.1A59.0 54.4 0 0 1 292.9 202.5ZM306.8 202.5A72.9 67.2 0 0 0 306.5 196.6L299.6 197.2A66.0 60.8 0 0 1 299.9 202.5ZM289.7 159.3A72.9 67.2 0 0 0 285.4 155.0L280.5 159.5A66.0 60.8 0 0 1 284.4 163.4Z"/><path fill="#ffc700" stroke="#ffc700" stroke-width="0.5" d="M191.5 188.3A45.1 41.6 0 0 0 189.5 195.3L196.3 196.4A38.2 35.2 0 0 1 198.0 190.5ZM287.9 167.6A66.0 60.8 0 0 0 284.4 163.4L279.1 167.5A59.0 54.4 0 0 1 282.2 171.3Z"/><path fill="#ff9e00" stroke="#ff9e00" stroke-width="0.5" d="M189.5 195.3A45.1 41.6 0 0 0 188.8 202.5L195.7 202.5A38.2 35.2 0 0 1 196.3 196.4ZM293.7 176.8A66.0 60.8 0 0 0 291.0 172.1L285.0 175.3A59.0 54.4 0 0 1 287.4 179.5Z"/><path fill="#0075ff" stroke="#0075ff" stroke-width="0.5" d="M180.4 179.5A59.0 54.4 0 0 0 178.4 183.9L185.0 186.1A52.1 48.0 0 0 1 186.7 182.2Z"/><path fill="#0024ff" stroke="#0024ff" stroke-width="0.5" d="M178.4 183.9A59.0 54.4 0 0 0 176.9 188.4L183.6 190.1A52.1 48.0 0 0 1 185.0 186.1Z"/><path fill="#0000fa" stroke="#0000fa" stroke-width="0.5" d="M176.9 188.4A59.0 54.4 0 0 0 174.9 202.5L181.8 202.5A52.1 48.0 0 0 1 183.6 190.1Z"/><path fill="#ff7500" stroke="#ff7500" stroke-width="0.5" d="M291.0 172.1A66.0 60.8 0 0 0 287.9 167.6L282.2 171.3A59.0 54.4 0 0 1 285.0 175.3Z"/></g>
<line x1="141.81" y1="44.20" x2="141.81" y2="202.50" stroke="#000" stroke-width="1.1" stroke-dasharray="2.3 2 2.3 6"/>
<line x1="325.99" y1="44.20" x2="325.99" y2="202.50" stroke="#000" stroke-width="1.1" stroke-dasharray="2.3 2 2.3 6"/>
<rect x="56.8" y="39.2" width="354.20" height="163.30" fill="none" stroke="#222" stroke-width="1.4"/>
<path d="M101.07 39.20v6.5M101.07 202.50v-6.5M145.35 39.20v6.5M145.35 202.50v-6.5M189.62 39.20v6.5M189.62 202.50v-6.5M233.90 39.20v6.5M233.90 202.50v-6.5M278.18 39.20v6.5M278.18 202.50v-6.5M322.45 39.20v6.5M322.45 202.50v-6.5M366.73 39.20v6.5M366.73 202.50v-6.5M56.80 161.68h6.5M411.00 161.68h-6.5M56.80 120.85h6.5M411.00 120.85h-6.5M56.80 80.02h6.5M411.00 80.02h-6.5" stroke="#222" stroke-width="1.4" fill="none"/>
<text transform="translate(56.80 232.00) scale(1 1.0)" text-anchor="middle">-4</text>
<text transform="translate(101.07 232.00) scale(1 1.0)" text-anchor="middle">-3</text>
<text transform="translate(145.35 232.00) scale(1 1.0)" text-anchor="middle">-2</text>
<g transform="translate(189.62 232.00) scale(1 1.0)"><text x="-10.05" y="0">-</text><path d="M5.39 0V-15.93" stroke="#000" stroke-width="2.21" fill="none"/><path d="M5.84 -15.59C4.03 -13.56 1.32 -12.43 -0.04 -11.75" stroke="#000" stroke-width="1.92" fill="none"/></g>
<text transform="translate(237.04 232.00) scale(1 1.0)" text-anchor="middle">0</text>
<g transform="translate(281.31 232.00) scale(1 1.0)"><path d="M1.63 0V-15.93" stroke="#000" stroke-width="2.21" fill="none"/><path d="M2.08 -15.59C0.27 -13.56 -2.44 -12.43 -3.80 -11.75" stroke="#000" stroke-width="1.92" fill="none"/></g>
<text transform="translate(325.59 232.00) scale(1 1.0)" text-anchor="middle">2</text>
<text transform="translate(369.86 232.00) scale(1 1.0)" text-anchor="middle">3</text>
<text transform="translate(414.14 232.00) scale(1 1.0)" text-anchor="middle">4</text>
<text transform="translate(429.50 210.30) scale(1 1.0)">0</text>
<g transform="translate(429.50 169.48) scale(1 1.0)"><path d="M7.91 0V-15.93" stroke="#000" stroke-width="2.21" fill="none"/><path d="M8.36 -15.59C6.55 -13.56 3.84 -12.43 2.49 -11.75" stroke="#000" stroke-width="1.92" fill="none"/></g>
<text transform="translate(429.50 128.65) scale(1 1.0)">2</text>
<text transform="translate(429.50 87.82) scale(1 1.0)">3</text>
<text transform="translate(429.50 47.00) scale(1 1.0)">4</text>
<path d="M209.20 12.30C209.90 10.40 211.10 9.50 212.70 9.50L218.80 9.50" stroke="#000" stroke-width="2.0" fill="none"/><path d="M214.50 9.50L214.10 17.60C213.90 20.70 217.20 20.80 217.70 17.50" stroke="#000" stroke-width="1.9" fill="none"/><text transform="translate(225.10 20.00) scale(1 1.0)">=</text><text transform="translate(243.50 20.00) scale(1 1.0)">2</text><path d="M256.50 12.30C257.20 10.40 258.40 9.50 260.00 9.50L266.10 9.50" stroke="#000" stroke-width="2.0" fill="none"/><path d="M261.80 9.50L261.40 17.60C261.20 20.70 264.50 20.80 265.00 17.50" stroke="#000" stroke-width="1.9" fill="none"/><text transform="translate(265.80 26.80) scale(1 1.0)" style="font-size:17.8px">k</text>
<g transform="translate(339.70 22.50) scale(1 1.0)"><text x="0.00" y="0">(2,2,-</text><path d="M60.66 0V-15.93" stroke="#000" stroke-width="2.21" fill="none"/><path d="M61.11 -15.59C59.30 -13.56 56.59 -12.43 55.23 -11.75" stroke="#000" stroke-width="1.92" fill="none"/><text x="65.32" y="0">)</text></g>
<text transform="translate(216.40 264.80) scale(1 1.0)" style="font-size:20.8px">v</text><text transform="translate(227.50 271.30) scale(1 1.0)" style="font-size:17.8px">||</text><text transform="translate(236.20 264.80) scale(1 1.0)" style="font-size:20.8px">/</text><text transform="translate(242.20 264.80) scale(1 1.0)" style="font-size:20.8px">v</text><text transform="translate(252.80 271.30) scale(1 1.0)" style="font-size:17.8px">ti</text>
<text transform="translate(26.60 179.70) rotate(-90) scale(0.9 1)">C(</text><text transform="translate(26.60 156.70) rotate(-90) scale(0.9 1)">v</text><path d="M32.40 146.00V135.00M32.40 140.50H21.60" stroke="#000" stroke-width="1.35" fill="none"/><text transform="translate(26.60 135.00) rotate(-90) scale(0.9 1)">,</text><text transform="translate(26.60 122.60) rotate(-90) scale(0.9 1)">v</text><path d="M20.00 110.10H36.50M20.00 105.40H36.50" stroke="#000" stroke-width="1.45" fill="none"/><text transform="translate(26.60 103.20) rotate(-90) scale(0.9 1)">,</text><text transform="translate(26.60 91.30) rotate(-90) scale(0.9 1)">t</text><text transform="translate(26.60 83.60) rotate(-90) scale(0.9 1)">)</text>
<text transform="translate(473.10 152.80) rotate(-90) scale(0.9 1)">v</text><path d="M479.10 141.60V130.60M479.10 136.10H467.90" stroke="#000" stroke-width="1.35" fill="none"/><text transform="translate(473.10 130.00) rotate(-90) scale(0.9 1)">/</text><text transform="translate(473.10 124.10) rotate(-90) scale(0.9 1)">v</text><text transform="translate(479.30 113.30) rotate(-90) scale(0.9 1)" style="font-size:17.8px">ti</text>
<rect x="500.0" y="35.2" width="20.0" height="187.30" fill="url(#jet)" stroke="#111" stroke-width="1.3"/>
<text transform="translate(538.60 61.93) scale(1 1.0)">0.4</text>
<text transform="translate(538.60 99.39) scale(1 1.0)">0.2</text>
<text transform="translate(538.60 136.85) scale(1 1.0)">0</text>
<text transform="translate(532.50 174.31) scale(1 1.0)">-0.2</text>
<text transform="translate(532.50 211.77) scale(1 1.0)">-0.4</text>
<path d="M500.00 53.93h6M520.00 53.93h-6M500.00 91.39h6M520.00 91.39h-6M500.00 128.85h6M520.00 128.85h-6M500.00 166.31h6M520.00 166.31h-6M500.00 203.77h6M520.00 203.77h-6" stroke="#222" stroke-width="1.3" fill="none"/>
</g>
<text x="1.8" y="23.7" style="font-family:'Liberation Serif', serif;font-size:28px">(</text><text x="11.6" y="23.7" style="font-family:'Liberation Serif', serif;font-size:28px;font-style:italic">a</text><text x="27.2" y="23.7" style="font-family:'Liberation Serif', serif;font-size:28px">)</text>
<text x="598.8" y="23.7" style="font-family:'Liberation Serif', serif;font-size:28px">(</text><text x="608.4" y="23.7" style="font-family:'Liberation Serif', serif;font-size:28px;font-style:italic">b</text><text x="624.6" y="23.7" style="font-family:'Liberation Serif', serif;font-size:28px">)</text>
<text x="2.8" y="346.1" style="font-family:'Liberation Serif', serif;font-size:28px">(</text><text x="12.8" y="346.1" style="font-family:'Liberation Serif', serif;font-size:28px;font-style:italic">c</text><text x="27.0" y="346.1" style="font-family:'Liberation Serif', serif;font-size:28px">)</text>
<text x="598.8" y="346.1" style="font-family:'Liberation Serif', serif;font-size:28px">(</text><text x="608.6" y="346.1" style="font-family:'Liberation Serif', serif;font-size:28px;font-style:italic">d</text><text x="624.6" y="346.1" style="font-family:'Liberation Serif', serif;font-size:28px">)</text>
</svg></body></html>
